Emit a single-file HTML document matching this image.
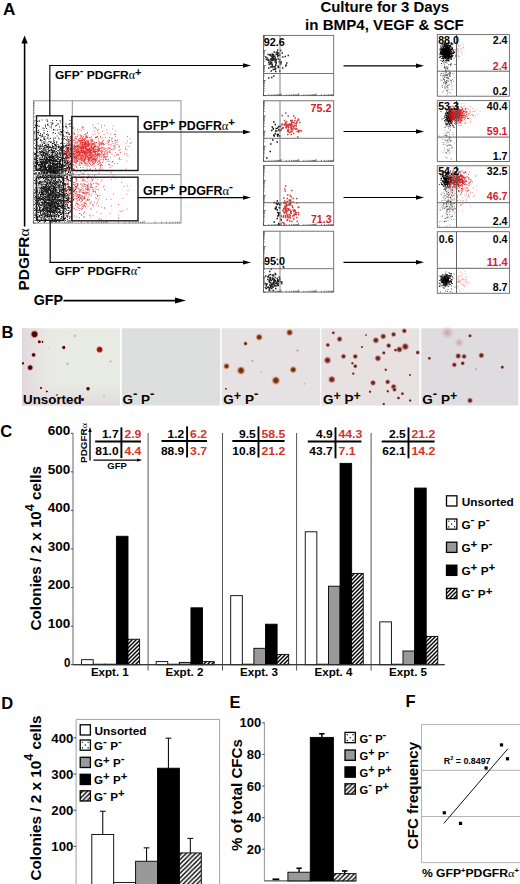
<!DOCTYPE html>
<html><head><meta charset="utf-8"><style>html,body{margin:0;padding:0;background:#fff;overflow:hidden}svg{display:block}</style></head>
<body><svg width="520" height="884" viewBox="0 0 520 884" font-family="Liberation Sans, sans-serif">
<rect width="520" height="884" fill="#fff"/>
<text x="3.0" y="15.1" font-size="17.2" font-weight="bold" fill="#000">A</text>
<line x1="24.6" y1="226.5" x2="24.6" y2="42.5" stroke="#000" stroke-width="1.6"/>
<path d="M24.60,35.50 L21.40,43.50 L27.80,43.50 Z" fill="#000"/>
<text transform="translate(28.9,290.5) rotate(-90)" font-size="15.5" font-weight="bold" textLength="62" lengthAdjust="spacingAndGlyphs">PDGFR<tspan font-family="Liberation Serif, serif" font-weight="normal">&#945;</tspan></text>
<text x="33.8" y="304.5" font-size="14.5" font-weight="bold" fill="#000" textLength="29.2" lengthAdjust="spacingAndGlyphs">GFP</text>
<line x1="63.5" y1="300.6" x2="176" y2="300.6" stroke="#000" stroke-width="1.7"/>
<path d="M186.00,300.60 L175.00,297.60 L175.00,303.60 Z" fill="#000"/>
<defs><filter id="bl3" x="-50%" y="-50%" width="200%" height="200%"><feGaussianBlur stdDeviation="4"/></filter></defs>
<ellipse cx="84" cy="152" rx="15" ry="8" fill="#e83030" opacity="0.35" filter="url(#bl3)"/>
<ellipse cx="50" cy="190" rx="12" ry="26" fill="#333" opacity="0.25" filter="url(#bl3)"/>
<path transform="scale(.5)" d="M95 416h2M95 390h2M81 393h2M122 414h2M121 408h2M108 406h2M110 416h2M82 385h2M106 399h2M110 379h2M106 413h2M111 438h2M88 376h2M93 397h2M113 408h2M91 369h2M90 439h2M84 408h2M109 352h2M101 442h2M98 374h2M110 398h2M71 426h2M113 430h2M129 412h2M102 358h2M112 380h2M91 360h2M81 383h2M71 408h2M129 419h2M107 376h2M78 431h2M122 405h2M105 414h2M132 420h2M110 418h2M69 441h2M119 417h2M96 433h2M111 395h2M106 421h2M102 437h2M87 387h2M121 401h2M82 430h2M129 386h2M72 396h2M97 390h2M128 367h2M125 359h2M84 420h2M123 427h2M107 405h2M103 418h2M96 409h2M111 400h2M115 418h2M140 410h2M91 388h2M100 430h2M93 412h2M78 408h2M108 408h2M91 421h2M106 383h2M89 397h2M95 398h2M120 363h2M99 431h2M93 420h2M122 354h2M114 352h2M104 438h2M97 406h2M116 405h2M121 391h2M118 391h2M103 423h2M104 420h2M112 369h2M79 353h2M125 424h2M129 370h2M100 364h2M120 394h2M98 381h2M108 413h2M130 367h2M129 394h2M85 433h2M102 404h2M128 392h2M106 380h2M100 427h2M102 442h2M99 433h2M87 428h2M75 400h2M96 399h2M88 407h2M136 401h2M111 432h2M96 360h2M89 434h2M120 425h2M100 426h2M103 362h2M69 380h2M118 382h2M82 375h2M69 396h2M76 412h2M114 391h2M106 385h2M116 424h2M113 410h2M127 421h2M118 442h2M94 385h2M81 422h2M138 396h2M111 429h2M82 397h2M106 426h2M99 394h2M80 389h2M118 403h2M83 373h2M112 415h2M134 414h2M99 417h2M106 378h2M72 379h2M106 406h2M92 369h2M142 433h2M76 357h2M134 432h2M136 426h2M83 408h2M99 417h2M85 396h2M109 412h2M113 407h2M94 425h2M101 374h2M87 400h2M98 405h2M100 406h2M97 360h2M108 434h2M109 394h2M109 369h2M81 424h2M92 356h2M85 417h2M110 406h2M130 423h2M100 419h2M133 431h2M120 365h2M97 423h2M94 434h2M112 429h2M125 393h2M93 428h2M120 400h2M77 406h2M107 436h2M116 401h2M117 417h2M104 402h2M95 422h2M79 380h2M100 353h2M86 418h2M111 398h2M95 355h2M137 417h2M122 372h2M116 430h2M87 355h2M101 408h2M113 422h2M130 437h2M74 384h2M79 366h2M98 400h2M75 399h2M96 390h2M99 376h2M114 411h2M98 378h2M80 401h2M70 406h2M103 356h2M95 390h2M109 420h2M99 373h2M97 398h2M115 409h2M86 357h2M93 376h2M78 396h2M90 403h2M110 387h2M122 404h2M85 408h2M106 441h2M115 430h2M110 395h2M110 365h2M124 367h2M96 401h2M123 401h2M84 408h2M112 423h2M133 401h2M105 386h2M128 377h2M113 385h2M86 423h2M127 400h2M86 426h2M99 410h2M130 436h2M100 425h2M87 399h2M127 361h2M124 385h2M99 390h2M98 365h2M100 354h2M99 410h2M109 393h2M82 405h2M115 396h2M91 378h2M81 389h2M106 416h2M86 400h2M90 405h2M103 413h2M95 412h2M101 425h2M100 367h2M79 420h2M87 420h2M115 410h2M110 397h2M72 399h2M109 383h2M98 424h2M82 420h2M137 382h2M103 395h2M131 410h2M118 378h2M100 400h2M115 396h2M109 412h2M70 393h2M130 382h2M80 356h2M76 411h2M134 414h2M90 378h2M111 418h2M80 363h2M106 408h2M74 394h2M89 415h2M98 397h2M93 434h2M128 388h2M117 376h2M101 424h2M130 388h2M99 406h2M70 401h2M86 412h2M101 408h2M89 428h2M95 381h2M86 399h2M117 395h2M106 379h2M87 401h2M103 433h2M112 425h2M104 408h2M119 412h2M133 360h2M116 388h2M100 392h2M90 373h2M87 420h2M101 402h2M97 429h2M110 395h2M113 395h2M109 369h2M122 411h2M107 429h2M104 395h2M69 431h2M101 391h2M107 402h2M114 388h2M92 422h2M127 388h2M93 423h2M134 401h2M125 377h2M104 398h2M102 436h2M88 416h2M79 416h2M111 391h2M86 382h2M92 427h2M102 387h2M100 412h2M125 409h2M99 413h2M119 421h2M95 366h2M102 433h2M78 367h2M95 386h2M109 378h2M82 387h2M99 379h2M100 424h2M84 387h2M86 399h2M110 357h2M109 399h2M116 407h2M109 414h2M126 393h2M117 387h2M115 374h2M109 395h2M77 375h2M104 430h2M109 417h2M99 443h2M92 382h2M118 402h2M94 382h2M95 420h2M107 361h2M109 406h2M80 425h2M94 389h2M116 442h2M86 414h2M90 438h2M87 426h2M91 416h2M98 379h2M143 403h2M88 405h2M125 404h2M124 424h2M84 428h2M110 421h2M118 423h2M103 416h2M93 401h2M118 386h2M123 375h2M105 383h2M103 378h2M68 435h2M106 382h2M104 432h2M80 396h2M111 417h2M125 411h2M100 391h2M105 386h2M80 376h2M88 380h2M77 420h2M74 421h2M80 411h2M127 407h2M85 402h2M88 405h2M91 403h2M115 425h2M118 419h2M94 399h2M95 390h2M93 399h2M81 399h2M110 395h2M110 390h2M117 412h2M100 381h2M113 384h2M104 384h2M104 424h2M82 399h2M112 405h2M118 426h2M88 377h2M118 371h2M86 377h2M105 376h2M126 397h2M78 442h2M88 407h2M100 390h2M106 378h2M75 376h2M100 402h2M111 404h2M84 377h2M110 417h2M98 394h2M119 400h2M115 419h2M104 442h2M89 389h2M84 374h2M100 418h2M124 426h2M124 360h2M87 414h2M129 403h2M83 389h2M87 373h2M130 380h2M124 411h2M88 413h2M132 420h2M125 403h2M110 394h2M109 442h2M71 398h2M105 382h2M94 425h2M140 420h2M139 402h2M99 364h2M99 365h2M101 415h2M101 409h2M96 376h2M80 389h2M106 362h2M114 395h2M103 396h2M99 423h2M100 372h2M113 380h2M79 364h2M70 420h2M84 388h2M107 443h2M139 433h2M103 406h2M94 415h2M106 402h2M90 358h2M124 417h2M76 445h2M137 426h2M141 361h2M111 414h2M104 405h2M121 352h2M75 355h2M89 381h2M107 409h2M101 378h2M91 430h2M115 403h2M88 421h2M123 392h2M117 364h2M120 406h2M68 421h2M82 441h2M86 395h2M106 389h2M105 382h2M113 400h2M123 401h2M109 434h2M97 422h2M93 364h2M122 429h2M131 427h2M87 378h2M84 419h2M107 391h2M103 395h2M104 424h2M119 378h2M102 435h2M101 354h2M90 423h2M83 355h2M110 430h2M104 358h2M116 425h2M111 384h2M106 425h2M107 415h2M100 428h2M88 397h2M94 418h2M132 392h2M116 419h2M135 394h2M98 366h2M109 443h2M111 414h2M96 405h2M71 434h2M92 365h2M85 374h2M117 434h2M73 430h2M118 381h2M70 376h2M87 411h2M118 361h2M86 373h2M89 442h2M117 419h2M90 382h2M80 416h2M85 377h2M112 443h2M103 369h2M124 410h2M123 386h2M121 425h2M69 387h2M72 397h2M112 366h2M74 434h2M96 409h2M97 432h2M121 403h2M73 424h2M91 420h2M123 386h2M89 414h2M124 440h2M110 358h2M75 408h2M83 436h2M84 405h2M90 395h2M109 374h2M109 380h2M89 417h2M89 409h2M132 401h2M97 424h2M93 435h2M74 420h2M90 374h2M135 373h2M135 421h2M129 369h2M98 396h2M92 380h2M109 411h2M93 415h2M129 368h2M73 365h2M85 391h2M101 417h2M93 400h2M89 404h2M77 402h2M138 403h2M75 408h2M85 424h2M108 397h2M81 365h2M127 408h2M77 398h2M104 395h2M94 356h2M85 427h2M105 433h2M78 419h2M108 376h2M110 371h2M84 399h2M80 353h2M91 424h2M92 441h2M77 358h2M131 413h2M119 374h2M116 408h2M113 401h2M124 379h2M81 353h2M123 376h2M79 370h2M91 359h2M94 380h2M89 369h2M101 385h2M102 408h2M89 375h2M86 391h2M93 432h2M91 431h2M124 414h2M110 404h2M110 361h2M119 383h2M120 403h2M123 396h2M92 408h2M91 383h2M102 405h2M130 401h2M134 434h2M103 404h2M97 377h2M99 379h2M133 417h2M99 387h2M78 364h2M99 395h2M129 404h2M103 388h2M93 401h2M82 431h2M72 418h2M81 435h2M86 376h2M74 437h2M133 381h2M85 389h2M87 438h2M137 391h2M86 384h2M78 434h2M106 376h2M116 400h2M77 420h2M137 416h2M86 389h2M122 353h2M95 411h2M113 390h2M76 370h2M87 405h2M106 366h2M131 430h2M102 377h2M118 374h2M74 406h2M105 419h2M83 431h2M80 422h2M104 408h2M119 399h2M122 428h2M103 382h2M85 383h2M96 399h2M115 372h2M86 390h2M104 367h2M132 382h2M100 409h2M104 419h2M106 405h2M106 394h2M84 381h2M99 441h2M90 372h2M89 406h2M101 409h2M99 430h2M136 360h2M103 392h2M111 406h2M93 376h2M72 371h2M114 417h2M100 416h2M88 402h2M101 418h2M99 395h2M97 379h2M145 416h2M114 427h2M138 442h2M115 362h2M83 409h2M110 367h2M92 387h2M101 411h2M94 360h2M98 433h2M109 421h2M110 376h2M111 432h2M140 424h2M93 381h2M84 404h2M99 421h2M146 399h2M114 415h2M105 393h2M98 374h2M104 399h2M106 373h2M101 402h2M112 366h2M108 431h2M112 388h2M90 392h2M97 379h2M108 407h2M82 376h2M98 421h2M76 367h2M110 361h2M102 411h2M98 367h2M99 389h2M107 373h2M96 400h2M119 381h2M111 382h2M92 414h2M81 431h2M124 401h2M77 413h2M123 435h2M75 436h2M138 424h2M122 389h2M75 397h2M96 398h2M114 395h2M104 414h2M109 403h2M96 380h2M127 405h2M78 382h2M97 386h2M122 363h2M110 405h2M76 402h2M98 416h2M91 410h2M116 433h2M100 381h2M84 422h2M113 367h2M103 371h2M101 429h2M123 413h2M145 380h2M100 434h2M87 377h2M93 398h2M78 415h2M111 402h2M134 390h2M126 383h2M104 394h2M90 380h2M93 377h2M89 383h2M79 396h2M116 392h2M90 443h2M120 429h2M123 390h2M97 436h2M89 396h2M108 412h2M94 431h2M96 423h2M121 421h2M115 363h2M74 380h2M76 410h2M83 377h2M94 422h2M104 438h2M80 428h2M119 402h2M110 382h2M78 387h2M104 410h2M115 375h2M118 412h2M70 419h2M111 414h2M132 387h2M110 424h2M82 438h2M71 358h2M110 365h2M101 364h2M109 391h2M101 398h2M103 358h2M81 385h2M85 380h2M79 410h2M97 374h2M80 426h2M87 419h2M78 400h2M107 425h2M116 433h2M93 393h2M116 386h2M113 394h2M106 401h2M78 385h2M130 374h2M76 396h2M92 371h2M83 434h2M89 365h2M116 418h2M79 424h2M123 392h2M74 416h2M118 399h2M108 425h2M137 392h2M90 399h2M124 370h2M116 378h2M109 422h2M76 397h2M105 419h2M81 368h2M96 393h2M70 430h2M117 401h2M115 364h2M93 382h2M75 401h2M82 385h2M108 413h2M101 385h2M110 412h2M73 362h2M103 402h2M102 372h2M96 371h2M108 422h2M135 441h2M84 385h2M81 410h2M140 423h2M74 416h2M100 410h2M136 374h2M107 375h2M101 432h2M97 378h2M101 420h2M92 416h2M116 395h2M91 394h2M81 393h2M94 407h2M127 442h2M91 419h2M106 424h2M100 409h2M91 375h2M117 442h2M113 414h2M105 386h2M104 382h2M81 441h2M86 399h2M90 405h2M96 376h2M121 375h2M90 418h2M89 386h2M107 388h2M75 397h2M78 431h2M84 389h2M93 409h2M87 443h2M120 426h2M85 429h2M98 411h2M95 421h2M122 436h2M96 432h2M129 370h2M129 357h2M111 419h2M130 409h2M90 375h2M75 425h2M95 377h2M111 376h2M91 385h2M106 402h2M107 418h2M94 430h2M117 407h2M92 385h2M114 365h2M97 376h2M72 419h2M99 401h2M117 352h2M99 409h2M117 365h2M114 407h2M127 436h2M100 386h2M93 370h2M98 414h2M120 389h2M128 379h2M85 375h2M129 417h2M78 417h2M109 393h2M100 390h2M98 440h2M128 391h2M85 393h2M118 411h2M89 411h2M96 416h2M92 354h2M101 424h2M78 397h2M117 388h2M116 432h2M114 441h2M82 379h2M112 417h2M91 417h2M115 410h2M91 405h2M90 432h2M92 415h2M103 402h2M133 397h2M127 426h2M126 395h2M118 423h2M88 408h2M98 399h2M125 378h2M91 380h2M100 417h2M134 410h2M109 377h2M111 442h2M116 354h2M94 418h2M108 375h2M83 430h2M74 444h2M100 409h2M74 382h2M113 355h2M140 357h2M76 401h2M109 423h2M93 394h2M95 382h2M105 405h2M88 408h2M100 398h2M105 367h2M79 397h2M89 429h2M110 389h2M94 433h2M83 389h2M103 413h2M90 432h2M143 387h2M127 389h2M103 390h2M88 361h2M92 440h2M122 389h2M90 378h2M113 404h2M91 369h2M125 424h2M82 430h2M79 420h2M82 387h2M110 413h2M119 374h2M130 441h2M100 414h2M85 395h2M75 403h2M104 441h2M118 425h2M93 393h2M93 407h2M70 384h2M100 384h2M132 397h2M130 436h2M90 412h2M125 390h2M102 383h2M101 389h2M102 431h2M127 404h2M104 426h2M94 367h2M121 371h2M118 370h2M135 368h2M114 422h2M99 391h2M93 391h2M93 378h2M108 433h2M114 364h2M103 404h2M128 437h2M110 437h2M92 412h2M118 372h2M103 398h2M94 415h2M102 392h2M91 371h2M88 403h2M111 374h2M119 369h2M116 413h2M95 395h2M109 427h2M74 408h2M86 419h2M126 402h2M98 406h2M111 405h2M92 378h2M97 437h2M98 441h2M105 400h2M68 380h2M124 360h2M81 366h2M89 420h2M128 382h2M98 362h2M88 378h2M81 390h2M117 411h2M81 404h2M101 423h2M94 414h2M140 403h2M79 410h2M85 389h2M104 410h2M95 426h2M96 360h2M117 389h2M123 380h2M111 410h2M79 443h2M121 415h2M113 385h2M100 407h2M108 422h2M96 378h2M89 413h2M68 361h2M92 383h2M93 392h2M94 415h2M109 437h2M120 368h2M112 390h2M88 374h2M92 374h2M119 412h2M127 413h2M88 432h2M87 386h2M97 401h2M123 381h2M107 399h2M76 366h2M96 412h2M106 415h2M101 386h2M108 369h2M74 390h2M72 384h2M86 383h2M99 375h2M103 373h2M85 407h2M102 403h2M71 407h2M103 370h2M114 398h2M100 386h2M111 403h2M122 414h2M88 393h2M118 389h2M107 416h2M103 407h2M103 377h2M123 396h2M88 378h2M107 366h2M125 433h2M126 418h2M124 415h2M126 385h2M102 424h2M98 434h2M102 421h2M102 354h2M105 441h2M111 382h2M96 428h2M116 441h2M82 380h2M78 443h2M108 385h2M99 407h2M144 404h2M119 442h2M110 411h2M96 387h2M105 399h2M98 392h2M85 399h2M91 406h2M117 425h2M114 426h2M113 444h2M120 442h2M90 400h2M86 430h2M116 385h2M124 365h2M98 420h2M99 412h2M123 410h2M79 422h2M98 404h2M89 357h2M76 389h2M122 364h2M86 417h2M85 421h2M91 410h2M102 400h2M99 444h2M89 417h2M103 415h2M119 353h2M105 394h2M94 373h2M85 368h2M133 400h2M114 370h2M103 445h2M99 369h2M95 369h2M73 393h2M92 375h2M83 371h2M105 443h2M68 409h2M77 395h2M102 417h2M122 383h2M76 394h2M106 378h2M72 411h2M104 393h2M72 441h2M104 385h2M109 420h2M115 418h2M108 363h2M92 404h2M93 367h2M101 382h2M92 372h2M85 397h2M87 421h2M97 404h2M108 440h2M112 407h2M97 375h2M93 421h2M104 388h2M74 352h2M106 432h2M107 357h2M96 407h2M82 411h2M96 374h2M76 425h2M107 372h2M80 428h2M112 391h2M131 391h2M79 434h2M96 411h2M101 369h2M77 394h2M127 369h2M126 407h2M78 408h2M111 372h2M78 414h2M84 354h2M95 405h2M89 363h2M110 415h2M133 427h2M107 408h2M101 359h2M128 416h2M94 364h2M129 417h2M77 421h2M137 399h2M108 387h2M88 433h2M98 425h2M94 423h2M116 368h2M79 398h2M116 409h2M124 357h2M110 381h2M102 410h2M81 393h2M77 408h2M83 385h2M104 380h2M122 380h2M116 409h2M80 393h2M84 389h2M109 359h2M120 412h2M96 392h2M105 391h2M90 389h2M123 381h2M107 364h2M86 357h2M96 421h2M106 385h2M112 389h2M107 408h2M75 424h2M95 383h2M129 417h2M137 416h2M96 422h2M85 386h2M89 393h2M115 385h2M106 385h2M96 405h2M79 431h2M104 440h2M119 420h2M97 366h2M96 386h2M105 386h2M123 385h2M95 429h2M100 363h2M108 394h2M80 377h2M109 409h2M108 381h2M105 396h2M96 391h2M89 430h2M98 412h2M92 395h2M82 380h2M123 408h2M124 426h2M118 431h2M88 425h2M94 384h2M116 374h2M105 411h2M107 389h2M75 401h2M117 424h2M113 434h2M81 399h2M107 431h2M103 416h2M72 379h2M109 421h2M120 406h2M83 397h2M106 391h2M87 389h2M71 368h2M98 389h2M101 443h2M106 399h2M77 367h2M107 373h2M108 367h2M103 398h2M119 388h2M93 408h2M95 383h2M94 415h2M105 421h2M135 399h2M77 405h2M100 354h2M109 443h2M120 354h2M127 428h2M93 415h2M129 390h2M100 383h2M127 370h2M82 382h2M112 380h2M124 390h2M109 395h2M135 389h2M101 421h2M86 406h2M88 354h2M73 435h2M108 353h2M135 379h2M93 408h2M86 436h2M123 401h2M110 402h2M108 369h2M83 378h2M93 419h2M88 382h2M114 413h2M93 367h2M122 433h2M136 415h2M106 423h2M118 392h2M81 423h2M123 390h2M113 399h2M106 383h2M99 400h2M100 430h2M120 424h2M116 371h2M123 371h2M125 421h2M81 436h2M87 377h2M70 393h2M120 379h2M136 421h2M90 363h2M68 417h2M125 367h2M100 391h2M95 415h2M140 380h2M116 434h2M95 395h2M74 433h2M90 380h2M101 374h2M80 391h2M129 394h2M110 355h2M92 353h2M98 419h2M105 372h2M115 430h2M109 387h2M99 380h2M97 410h2M94 430h2M107 425h2M112 393h2M91 431h2M112 416h2M84 420h2M115 394h2M77 358h2M95 417h2M101 364h2M72 383h2M100 374h2M84 395h2M89 382h2M101 391h2M112 363h2M99 424h2M123 417h2M69 430h2M113 418h2M80 363h2M103 368h2M131 381h2M89 427h2M106 372h2M76 392h2M112 422h2M119 413h2M87 363h2M79 424h2M117 439h2M101 362h2M134 359h2M121 437h2M92 358h2M99 412h2M70 364h2M98 422h2M101 414h2M106 371h2M98 388h2M109 376h2M128 401h2M110 420h2M120 413h2M136 415h2M111 415h2M87 379h2M87 436h2M109 363h2M134 411h2M123 407h2M94 405h2M78 363h2M83 384h2M73 397h2M136 398h2M117 393h2M108 399h2M89 402h2M71 414h2M94 366h2M93 417h2M87 415h2M79 397h2M105 424h2M71 382h2M133 391h2M143 377h2M113 408h2M140 405h2M95 356h2M98 430h2M115 439h2M117 399h2M112 405h2M107 367h2M108 409h2M130 370h2M107 411h2M78 385h2M104 424h2M143 409h2M88 276h2M121 329h2M98 309h2M115 289h2M102 335h2M98 334h2M117 295h2M94 334h2M119 313h2M116 341h2M70 297h2M72 335h2M104 349h2M116 319h2M121 352h2M109 343h2M74 341h2M79 304h2M93 335h2M99 324h2M80 336h2M85 298h2M92 307h2M94 327h2M109 289h2M78 303h2M109 335h2M136 326h2M106 334h2M126 317h2M114 323h2M102 336h2M100 321h2M131 326h2M134 298h2M139 333h2M72 331h2M70 308h2M106 336h2M84 326h2M98 334h2M100 327h2M118 294h2M90 335h2M92 319h2M91 337h2M125 328h2M95 341h2M95 286h2M105 323h2M89 347h2M101 318h2M100 329h2M109 337h2M90 302h2M78 329h2M77 350h2M73 289h2M96 289h2M133 308h2M99 326h2M84 290h2M71 345h2M90 349h2M118 347h2M129 328h2M131 315h2M133 266h2M100 313h2M114 334h2M134 297h2M107 282h2M107 304h2M112 329h2M72 325h2M81 274h2M112 341h2M115 334h2M87 261h2M88 298h2M99 292h2M100 351h2M130 338h2M104 350h2M128 324h2M75 313h2M75 311h2M98 340h2M103 334h2M93 342h2M118 350h2M130 325h2M104 342h2M92 308h2M99 321h2M117 323h2M102 327h2M107 317h2M122 298h2M92 315h2M113 333h2M110 324h2M86 305h2M93 319h2M106 341h2M120 329h2M85 307h2M101 341h2M139 336h2M90 330h2M101 315h2M105 348h2M86 347h2M86 311h2M104 326h2M80 293h2M100 338h2M91 336h2M69 341h2M108 339h2M88 334h2M106 338h2M123 320h2M113 339h2M99 301h2M135 287h2M106 323h2M123 322h2M101 347h2M109 320h2M114 341h2M120 320h2M99 323h2M83 338h2M94 341h2M123 329h2M101 335h2M86 308h2M122 336h2M99 302h2M77 311h2M131 319h2M112 314h2M110 323h2M107 326h2M101 338h2M90 337h2M90 320h2M107 318h2M122 332h2M119 335h2M127 332h2M71 318h2M110 346h2M106 343h2M74 328h2M105 327h2M101 346h2M81 319h2M79 292h2M115 327h2M119 323h2M142 349h2M103 335h2M96 351h2M140 322h2M78 346h2M121 297h2M86 308h2M111 344h2M85 305h2M113 283h2M113 328h2M89 326h2M95 315h2M70 327h2M129 350h2M84 313h2M83 294h2M123 334h2M86 298h2M92 320h2M134 321h2M113 328h2M112 322h2M98 309h2M82 297h2M110 344h2M103 350h2M111 335h2M83 346h2M123 347h2M125 321h2M89 338h2M96 333h2M95 319h2M104 287h2M82 305h2M85 272h2M95 350h2M112 303h2M124 292h2M89 324h2M125 335h2M98 313h2M102 333h2M114 332h2M104 332h2M111 329h2M85 334h2M108 335h2M105 341h2M78 306h2M98 310h2M87 333h2M123 319h2M111 336h2M93 310h2M97 315h2M111 291h2M122 350h2M112 292h2M101 343h2M87 305h2M108 344h2M92 326h2M90 319h2M69 324h2M132 339h2M103 352h2M80 304h2M105 352h2M92 316h2M108 346h2M105 287h2M89 273h2M105 312h2M126 343h2M105 336h2M89 331h2M137 312h2M87 336h2M117 351h2M81 329h2M95 303h2M102 321h2M118 342h2M85 334h2M93 317h2M92 292h2M85 351h2M142 307h2M93 324h2M73 341h2M99 339h2M144 326h2M115 351h2M88 318h2M130 349h2M103 306h2M117 344h2M116 338h2M101 319h2M106 338h2M106 319h2M84 342h2M111 345h2M110 330h2M134 299h2M87 320h2M69 340h2M99 319h2M92 347h2M111 331h2M111 315h2M93 345h2M117 308h2M134 335h2M117 326h2M121 296h2M87 348h2M93 340h2M76 350h2M126 306h2M120 263h2M95 292h2M106 315h2M89 312h2M106 321h2M82 327h2M108 312h2M122 293h2M108 323h2M131 317h2M87 301h2M139 346h2M79 324h2M108 285h2M100 343h2M98 337h2M104 316h2M107 336h2M99 316h2M80 338h2M116 276h2M118 315h2M126 309h2M92 327h2M77 329h2M93 318h2M88 349h2M130 322h2M126 339h2M71 348h2M92 337h2M105 310h2M104 316h2M82 342h2M88 278h2M105 351h2M70 332h2M126 332h2M104 317h2M121 316h2M102 284h2M101 337h2M140 297h2M90 327h2M75 300h2M76 347h2M99 351h2M79 346h2M91 334h2M118 333h2M93 293h2M101 350h2M88 330h2M94 293h2M93 295h2M106 328h2M120 323h2M107 337h2M109 297h2M100 348h2M87 318h2M107 346h2M111 340h2M87 335h2M91 325h2M104 340h2M84 272h2M85 345h2M83 342h2M93 310h2M98 331h2M119 301h2M118 320h2M85 340h2M72 320h2M95 274h2M112 350h2M121 298h2M75 313h2M81 325h2M104 343h2M129 306h2M117 336h2M77 336h2M126 317h2M82 335h2M103 314h2M86 349h2M84 327h2M113 334h2M134 348h2M109 346h2M115 339h2M97 294h2M141 301h2M88 338h2M100 285h2M93 339h2M123 303h2M107 334h2M103 336h2M93 299h2M109 341h2M75 276h2M82 342h2M100 349h2M97 318h2M105 344h2M123 343h2M98 326h2M81 320h2M120 310h2M137 315h2M122 316h2M108 344h2M136 333h2M105 304h2M136 334h2M74 350h2M71 316h2M144 317h2M87 318h2M89 345h2M129 308h2M109 289h2M130 330h2M84 333h2M107 327h2M130 315h2M82 319h2M108 328h2M102 321h2M98 344h2M115 313h2M98 314h2M96 298h2M119 348h2M98 316h2M91 316h2M77 346h2M112 294h2M90 334h2M100 319h2M97 325h2M125 330h2M99 319h2M87 314h2M122 338h2M104 328h2M78 338h2M94 294h2M104 344h2M104 321h2M94 344h2M121 320h2M103 314h2M112 323h2M123 314h2M134 325h2M83 310h2M113 311h2M110 298h2M100 315h2M144 319h2M81 324h2M105 343h2M77 337h2M68 318h2M90 324h2M114 317h2M119 327h2M83 326h2M113 335h2M112 346h2M82 310h2M129 320h2M83 310h2M119 305h2M103 333h2M87 327h2M90 331h2M115 301h2M82 282h2M130 330h2M100 331h2M120 340h2M117 328h2M98 331h2M68 308h2M113 333h2M82 330h2M120 327h2M98 324h2M127 273h2M99 345h2M128 331h2M93 320h2M96 302h2M100 345h2M106 343h2M69 309h2M77 318h2M79 348h2M107 333h2M87 340h2M101 314h2M107 316h2M119 347h2M86 346h2M101 315h2M82 292h2M77 340h2M124 317h2M103 340h2M116 343h2M125 350h2M85 342h2M100 346h2M94 352h2M126 312h2M89 338h2M110 335h2M117 304h2M122 342h2M95 342h2M99 294h2M88 331h2M90 310h2M95 323h2M101 331h2M103 342h2M76 261h2M92 348h2M93 317h2M89 338h2M123 345h2M145 329h2M119 349h2M87 333h2M89 307h2M106 313h2M134 314h2M89 334h2M90 333h2M88 298h2M130 343h2M103 321h2M97 339h2M72 313h2M98 333h2M119 306h2M98 320h2M106 332h2M118 332h2M130 309h2M118 308h2M128 325h2M124 322h2M82 334h2M88 323h2M79 331h2M93 319h2M84 328h2M104 295h2M105 304h2M81 330h2M91 289h2M89 348h2M99 316h2M83 302h2M80 304h2M99 340h2M97 337h2M124 325h2M75 277h2M105 316h2M95 342h2M109 294h2M81 334h2M90 282h2M123 293h2M81 341h2M105 345h2M111 315h2M125 291h2M88 339h2M103 309h2M81 341h2M87 322h2M120 335h2M98 334h2M91 321h2M130 337h2M87 319h2M112 323h2M78 316h2M98 338h2M81 315h2M110 344h2M96 337h2M110 290h2M118 340h2M107 287h2M81 325h2M103 321h2M119 346h2M100 334h2M107 338h2M86 351h2M83 331h2M93 304h2M112 330h2M77 330h2M89 349h2M81 312h2M98 342h2M118 326h2M83 328h2M118 326h2M90 340h2M85 302h2M81 340h2M114 335h2M129 323h2M89 307h2M87 335h2M95 315h2M93 322h2M91 322h2M83 331h2M90 328h2M72 335h2M111 347h2M89 305h2M74 304h2M87 325h2M69 316h2M86 352h2M137 324h2M95 323h2M96 328h2M98 313h2M107 320h2M111 306h2M142 337h2M91 305h2M109 320h2M115 319h2M118 336h2M107 336h2M93 323h2M109 349h2M133 305h2M121 330h2M105 313h2M133 312h2M98 315h2M74 321h2M107 322h2M93 307h2M105 306h2M107 316h2M93 309h2M102 349h2M118 325h2M76 330h2M133 339h2M99 283h2M91 345h2M89 311h2M89 330h2M120 319h2M113 343h2M85 311h2M136 333h2M74 322h2M93 323h2M103 312h2M123 300h2M84 292h2M72 346h2M112 327h2M117 347h2M89 331h2M91 341h2M79 326h2M146 338h2M102 338h2M103 301h2M86 328h2M103 312h2M98 315h2M74 317h2M84 352h2M126 346h2M96 319h2M69 320h2M104 326h2M100 342h2M100 342h2M85 333h2M98 320h2M100 335h2M95 342h2M89 292h2M114 332h2M133 341h2M86 345h2M79 330h2M68 348h2M111 308h2M116 316h2M86 306h2M75 340h2M105 325h2M103 331h2M80 308h2M112 309h2M111 347h2M93 294h2M84 303h2M121 336h2M95 343h2M92 315h2M104 312h2M132 338h2M91 343h2M81 349h2M91 338h2M83 329h2M119 327h2M87 339h2M117 328h2M77 296h2M98 343h2M121 339h2M109 320h2M68 347h2M98 346h2M79 329h2M140 313h2M95 335h2M98 324h2M109 327h2M119 335h2M116 351h2M111 333h2M101 342h2M111 341h2M89 331h2M109 310h2M100 350h2M103 326h2M100 321h2M119 324h2M106 337h2M91 302h2M97 313h2M87 332h2M85 340h2M86 322h2M86 332h2M118 351h2M68 331h2M86 350h2M112 320h2M142 326h2M90 322h2M129 331h2M109 303h2M107 349h2M90 321h2M69 341h2M118 349h2M82 302h2M113 336h2M119 326h2M83 343h2M89 295h2M88 312h2M78 320h2M134 323h2M122 331h2M108 317h2M99 294h2M135 315h2M111 319h2M105 305h2M112 288h2M117 302h2M106 344h2M87 325h2M95 342h2M95 350h2M98 334h2M82 341h2M140 336h2M100 332h2M114 328h2M100 337h2M79 318h2M100 352h2M119 328h2M142 329h2M131 337h2M111 298h2M69 314h2M81 309h2M132 311h2M84 323h2M117 322h2M114 345h2M87 279h2M82 304h2M132 316h2M79 341h2M101 311h2M105 315h2M83 286h2M108 341h2M82 333h2M92 321h2M112 329h2M119 344h2M123 335h2M105 301h2M80 333h2M86 309h2M113 332h2M98 335h2M106 337h2M83 273h2M114 305h2M97 330h2M88 344h2M95 326h2M81 326h2M80 333h2M108 301h2M140 281h2M100 325h2M121 307h2M120 287h2M88 346h2M102 299h2M123 318h2M122 316h2M105 332h2M75 340h2M92 269h2M84 313h2M84 310h2M86 276h2M118 334h2M105 326h2M101 326h2M79 297h2M73 326h2M133 320h2M114 327h2M80 330h2M107 276h2M116 334h2M80 350h2M107 328h2M94 344h2M111 347h2M92 302h2M89 331h2M116 292h2M105 316h2M140 332h2M104 322h2M104 291h2M75 298h2M118 330h2M123 285h2M84 289h2M85 324h2M111 321h2M90 298h2M102 312h2M113 343h2M103 305h2M105 319h2M115 346h2M109 322h2M130 350h2M125 351h2M113 341h2M79 290h2M82 346h2M118 336h2M92 291h2M70 325h2M114 349h2M96 351h2M99 315h2M93 349h2M119 306h2M81 335h2M142 305h2M75 342h2M110 318h2M99 343h2M123 330h2M115 317h2M97 278h2M91 315h2M84 330h2M79 341h2M137 305h2M120 320h2M111 329h2M125 316h2M114 314h2M104 332h2M121 296h2M80 337h2M99 322h2M114 330h2M85 350h2M127 321h2M94 341h2M122 344h2M81 319h2M121 329h2M79 316h2M86 340h2M87 326h2M111 337h2M111 321h2M104 307h2M76 325h2M107 334h2M85 300h2M107 314h2M123 344h2M92 318h2M122 340h2M132 340h2M89 318h2M86 338h2M105 346h2M109 308h2M96 310h2M109 302h2M89 312h2M88 326h2M129 326h2M72 325h2M115 345h2M122 334h2M124 301h2M97 312h2M119 330h2M103 332h2M104 328h2M81 325h2M102 311h2M68 319h2M95 332h2M102 315h2M99 332h2M103 298h2M70 346h2M93 318h2M74 325h2M98 316h2M115 345h2M97 301h2M105 341h2M115 325h2M100 295h2M86 325h2M118 334h2M94 346h2M138 339h2M99 336h2M113 321h2M102 344h2M93 341h2M106 348h2M81 320h2M105 294h2M107 302h2M82 335h2M93 325h2M137 309h2M130 340h2M109 313h2M70 332h2M115 337h2M108 341h2M88 329h2M102 322h2M72 299h2M110 344h2M102 305h2M117 323h2M110 322h2M105 293h2M93 325h2M109 329h2M107 294h2M145 347h2M123 336h2M91 309h2M108 329h2M91 295h2M97 329h2M119 320h2M70 307h2M99 338h2M114 323h2M110 335h2M133 331h2M103 345h2M124 311h2M91 326h2M121 333h2M118 299h2M130 342h2M77 333h2M103 320h2M115 314h2M99 350h2M72 341h2M76 330h2M114 331h2M118 334h2M96 343h2M95 335h2M120 319h2M122 306h2M96 292h2M71 309h2M109 351h2M116 293h2M110 330h2M102 343h2M95 293h2M79 299h2M74 329h2M125 315h2M85 305h2M91 326h2M81 343h2M77 345h2M87 350h2M83 342h2M109 330h2M132 336h2M83 348h2M84 319h2M100 336h2M133 292h2M97 339h2M130 303h2M101 350h2M89 291h2M81 337h2M126 296h2M132 328h2M89 335h2M130 346h2M133 350h2M89 309h2M136 297h2M93 325h2M82 319h2M99 320h2M84 323h2M117 326h2M92 325h2M76 350h2M88 315h2M110 335h2M89 327h2M120 315h2M109 348h2M107 346h2M109 344h2M101 308h2M80 336h2M107 281h2M70 326h2M88 345h2M76 339h2M103 346h2M99 332h2M95 307h2M114 340h2M83 325h2M100 352h2M109 291h2M87 285h2M94 322h2M112 336h2M112 303h2M87 340h2M133 327h2M97 338h2M115 330h2M106 322h2M89 314h2M113 319h2M111 341h2M119 269h2M81 304h2M97 351h2M127 341h2M92 344h2M100 346h2M80 306h2M87 331h2M107 324h2M107 348h2M77 330h2M70 319h2M118 315h2M136 344h2M117 334h2M102 320h2M96 321h2M86 293h2M90 340h2M91 314h2M108 343h2M91 339h2M81 324h2M103 322h2M130 291h2M102 302h2M106 302h2M111 344h2M91 329h2M90 291h2M112 285h2M95 344h2M102 295h2M87 348h2M91 350h2M114 317h2M93 309h2M122 301h2M82 324h2M105 313h2M111 340h2M106 330h2M109 305h2M77 322h2M78 348h2M109 340h2M87 302h2M111 297h2M106 329h2M115 333h2M102 318h2M127 309h2M82 348h2M106 297h2M91 308h2M143 334h2M95 305h2M107 321h2M109 311h2M129 331h2M110 335h2M123 346h2M93 349h2M92 335h2M132 307h2M80 323h2M131 321h2M104 324h2M113 347h2M115 350h2M138 328h2M114 328h2M101 337h2M99 340h2M83 328h2M88 305h2M86 320h2M97 295h2M95 306h2M84 336h2M122 339h2M90 322h2M126 294h2M122 297h2M88 333h2M110 331h2M119 333h2M92 350h2M68 308h2M123 344h2M94 263h2M109 328h2M100 337h2M115 326h2M82 324h2M139 316h2M121 335h2M114 326h2M95 323h2M107 328h2M94 311h2M105 340h2M136 331h2M145 322h2M84 328h2M96 297h2M111 311h2M125 337h2M90 326h2M119 320h2M82 318h2M109 332h2M98 320h2M127 294h2M101 334h2M101 300h2M97 335h2M87 339h2M102 341h2M97 321h2M118 330h2M95 312h2M104 317h2M91 312h2M101 305h2M70 338h2M84 316h2M126 331h2M93 347h2M78 303h2M120 332h2M120 322h2M77 293h2M107 331h2M99 298h2M127 317h2M108 332h2M121 338h2M124 337h2M91 320h2M113 313h2M118 326h2M82 311h2M115 332h2M95 332h2M103 321h2M104 309h2M79 328h2M139 306h2M97 295h2M103 337h2M115 301h2M88 317h2M96 331h2M90 351h2M130 307h2M121 333h2M113 293h2M125 254h2M69 250h2M129 333h2M105 266h2M130 253h2M91 240h2M139 286h2M124 330h2M110 351h2M124 344h2M137 249h2M122 265h2M91 278h2M139 247h2M99 254h2M140 296h2M119 298h2M123 278h2M98 323h2M119 339h2M90 335h2M121 304h2M97 304h2M74 251h2M90 254h2M72 320h2M121 309h2M83 321h2M127 309h2M84 303h2M96 270h2M79 337h2M114 344h2M80 270h2M105 247h2M90 300h2M103 342h2M110 311h2M110 328h2M94 240h2M139 329h2M77 253h2M84 314h2M77 242h2M104 241h2M87 283h2M83 240h2M87 267h2M91 286h2M94 276h2M69 334h2M121 295h2M68 266h2M133 291h2M83 332h2M132 254h2M104 303h2M76 276h2M113 315h2M113 309h2M95 248h2M69 334h2M130 341h2M73 326h2M80 279h2M82 336h2M127 333h2M95 345h2M87 304h2M116 266h2M95 251h2M125 261h2M78 271h2M114 311h2M106 336h2M122 263h2M106 259h2M85 256h2M74 279h2M132 313h2M74 265h2M111 299h2M70 251h2M109 307h2M74 327h2M85 306h2M106 278h2M136 284h2M98 301h2M128 351h2M123 300h2M120 311h2M137 349h2M123 264h2M109 289h2M85 328h2M84 319h2M103 288h2M119 321h2M139 352h2M126 270h2M116 295h2M136 290h2M94 243h2M102 300h2M90 252h2M103 248h2M80 290h2M93 296h2M106 284h2M78 242h2M108 349h2M88 279h2M91 323h2M104 329h2M68 255h2M83 281h2M97 283h2M138 289h2M109 348h2M114 307h2M128 277h2M71 347h2M106 305h2M73 323h2M95 312h2M88 343h2M95 271h2M132 265h2M88 295h2M139 253h2M83 329h2M73 286h2M124 320h2M125 253h2M132 280h2M127 293h2M132 294h2M87 257h2M104 246h2M80 338h2M109 337h2M79 294h2M102 252h2M87 343h2M120 297h2M112 336h2M137 307h2M72 338h2M80 267h2M78 297h2M110 292h2M102 256h2M120 300h2M90 333h2M136 343h2M139 248h2M96 290h2M86 323h2M133 256h2M104 348h2M132 290h2M76 291h2M105 328h2M81 271h2M139 241h2M112 251h2M122 287h2M135 265h2M131 265h2M71 250h2M73 284h2M138 280h2M120 244h2M105 300h2M75 305h2M100 277h2M128 317h2M77 252h2M72 270h2M114 348h2M138 337h2M77 329h2M123 293h2M140 307h2M77 264h2M77 308h2M113 336h2M69 241h2M138 269h2M87 337h2M76 329h2M133 303h2M112 241h2M112 309h2M124 298h2M76 265h2M115 249h2M76 268h2M125 301h2M94 348h2M110 267h2M109 336h2M95 289h2M110 351h2M114 260h2M110 276h2M102 320h2M69 297h2M91 307h2M127 292h2M113 272h2M86 297h2M106 265h2M123 296h2M94 268h2M128 341h2M136 268h2M73 311h2M70 336h2M117 278h2M100 316h2M80 281h2M125 316h2M110 252h2M84 269h2M70 312h2M109 344h2M108 343h2M102 298h2M88 292h2M135 295h2M68 280h2M82 310h2M105 293h2M135 325h2M74 243h2M118 307h2M115 296h2M71 291h2M128 307h2M71 254h2M133 301h2M80 319h2M135 337h2M114 330h2M74 292h2M126 278h2M78 337h2M119 241h2M73 302h2M137 309h2M131 252h2M109 260h2M92 257h2M101 245h2M115 312h2M133 326h2M73 337h2M107 345h2M103 249h2M119 259h2M139 300h2M133 295h2M92 314h2M119 292h2M88 287h2M119 266h2M79 294h2M115 247h2M88 349h2M87 326h2M90 250h2M103 337h2M124 245h2M119 310h2M103 314h2M106 260h2M118 254h2M90 335h2M109 297h2M119 295h2M96 302h2M70 279h2M71 352h2M133 313h2M79 336h2M88 330h2M115 308h2M121 270h2M128 301h2M123 334h2M86 286h2M94 249h2M131 317h2M103 301h2M131 248h2M94 317h2M106 296h2M87 265h2M119 383h2M139 435h2M142 377h2M107 362h2M95 359h2M106 440h2M126 385h2M89 438h2M72 430h2M133 358h2M140 411h2M98 391h2M114 400h2M134 434h2M93 353h2M127 412h2M118 359h2M74 435h2M96 395h2M142 370h2M116 358h2M111 420h2M80 422h2M142 428h2M128 439h2M122 402h2M131 426h2M116 414h2M82 383h2M93 431h2M127 379h2M144 357h2M73 382h2M74 439h2M95 388h2M133 401h2M116 392h2M103 440h2M89 400h2M104 365h2M79 399h2M129 392h2M72 438h2M78 433h2M71 412h2M79 376h2M100 421h2M101 390h2M99 400h2M89 440h2M82 364h2M110 384h2M123 356h2M119 386h2M138 380h2M101 381h2M109 378h2M119 390h2M122 379h2M103 403h2M123 412h2M101 360h2M77 365h2M82 369h2M118 383h2M137 374h2M87 369h2M79 415h2M112 375h2M130 414h2M101 408h2M118 393h2M75 386h2M140 386h2M117 360h2M127 432h2M96 386h2M107 375h2M84 364h2M120 399h2M141 441h2M134 439h2M132 354h2M78 442h2M134 409h2M115 392h2M100 365h2M110 377h2M77 432h2M112 433h2M90 405h2M89 428h2M84 412h2M110 382h2M74 397h2M108 427h2M83 369h2M91 426h2M86 410h2M70 360h2M122 398h2M77 396h2M139 388h2M110 391h2M106 356h2M135 405h2M94 378h2M82 438h2M132 387h2M114 403h2M83 355h2M124 367h2M111 354h2M70 367h2M118 408h2M143 413h2M108 353h2M141 397h2M133 356h2M131 396h2M84 389h2M74 405h2M85 417h2M81 415h2M115 417h2M140 379h2M120 389h2M136 428h2M126 407h2M88 436h2M142 439h2M94 428h2M120 429h2M129 394h2M98 425h2M118 402h2M134 355h2M69 395h2M75 429h2M75 433h2M85 364h2M125 414h2M99 407h2M110 439h2M107 402h2M103 390h2M120 362h2M121 437h2M126 402h2M95 361h2M75 402h2M135 432h2M82 421h2M129 396h2M133 369h2M94 399h2M123 393h2M91 432h2M98 391h2M85 396h2M134 314h2M132 310h2M151 358h2M134 399h2M140 343h2M140 361h2M143 414h2M134 349h2M135 397h2M138 380h2M141 326h2M137 404h2M142 382h2M134 336h2M131 340h2M136 295h2M143 321h2M138 373h2M133 280h2M142 366h2M135 394h2M141 313h2M136 282h2M135 405h2M131 382h2M127 339h2M142 417h2M139 379h2M146 256h2M126 423h2M151 373h2M136 360h2M136 326h2M136 345h2M140 376h2M142 373h2M130 404h2M138 330h2M147 308h2M129 331h2M139 381h2M137 376h2M132 327h2M137 298h2M137 335h2M140 311h2M133 328h2M134 311h2M135 298h2M139 376h2M136 343h2M131 313h2M135 315h2M129 357h2M136 334h2M131 348h2M132 334h2M137 378h2M141 327h2M143 305h2M135 400h2M150 355h2M134 336h2M129 344h2M134 321h2M143 320h2M146 383h2M140 327h2M133 273h2M138 340h2M138 324h2M139 292h2M144 337h2M135 291h2M130 378h2M132 349h2M135 427h2M141 299h2M133 306h2M128 324h2M142 352h2M140 345h2M134 353h2M136 425h2M147 365h2M140 273h2M135 443h2M131 382h2M143 335h2M135 332h2M141 351h2M145 396h2M134 326h2M135 316h2M134 347h2M141 289h2M128 320h2M134 368h2M132 408h2M133 342h2M136 395h2M138 351h2M133 357h2M138 337h2M136 279h2M133 396h2M144 347h2M134 389h2M133 403h2M143 309h2M135 303h2M138 335h2M127 309h2M137 291h2M142 367h2M135 404h2M131 377h2M128 337h2M140 329h2M135 375h2M145 401h2M139 340h2M128 417h2M147 266h2M141 348h2M140 362h2M135 350h2M136 395h2M135 329h2M140 375h2M139 361h2M145 393h2M137 342h2M140 277h2M133 323h2M137 335h2M150 379h2M138 437h2M136 338h2M143 382h2M141 397h2M134 324h2M132 354h2M142 309h2M133 298h2M148 381h2M137 303h2M130 325h2M136 301h2M135 397h2" stroke="#111" stroke-width="2" stroke-opacity="0.85"/>
<path transform="scale(.5)" d="M168 304h2M126 296h2M166 293h2M140 300h2M148 294h2M136 299h2M187 293h2M176 283h2M179 311h2M159 314h2M150 302h2M202 305h2M144 317h2M179 300h2M134 275h2M136 321h2M175 292h2M190 325h2M151 308h2M135 305h2M206 287h2M170 294h2M166 304h2M173 316h2M177 318h2M187 320h2M154 308h2M162 291h2M207 310h2M171 274h2M163 313h2M165 295h2M198 301h2M162 301h2M162 317h2M180 303h2M161 299h2M202 302h2M183 283h2M174 313h2M193 309h2M179 308h2M187 333h2M173 292h2M180 302h2M180 315h2M172 297h2M176 287h2M175 291h2M177 305h2M165 286h2M170 294h2M165 312h2M189 287h2M185 323h2M190 309h2M164 327h2M163 282h2M170 307h2M149 285h2M208 308h2M184 296h2M138 298h2M196 296h2M133 298h2M163 303h2M148 297h2M156 314h2M170 315h2M170 274h2M128 307h2M185 316h2M169 279h2M158 308h2M196 301h2M158 292h2M188 316h2M130 317h2M151 282h2M137 291h2M212 342h2M144 292h2M171 309h2M160 281h2M161 293h2M132 302h2M141 277h2M198 318h2M197 307h2M160 301h2M140 311h2M174 299h2M131 299h2M199 325h2M186 300h2M170 311h2M171 318h2M157 270h2M121 287h2M140 310h2M190 305h2M179 305h2M172 297h2M159 319h2M163 302h2M191 318h2M160 306h2M148 303h2M175 304h2M171 308h2M170 296h2M149 298h2M201 302h2M156 295h2M144 308h2M147 314h2M186 312h2M189 304h2M133 299h2M183 283h2M143 316h2M176 322h2M182 305h2M176 315h2M168 300h2M175 299h2M217 296h2M139 283h2M190 299h2M172 300h2M175 284h2M171 295h2M189 313h2M144 288h2M178 320h2M184 302h2M193 273h2M159 289h2M147 309h2M174 307h2M165 311h2M185 296h2M188 292h2M205 288h2M164 288h2M168 321h2M151 326h2M196 311h2M155 314h2M188 304h2M219 298h2M142 298h2M178 327h2M133 302h2M195 296h2M160 286h2M183 316h2M180 307h2M188 303h2M182 315h2M194 312h2M169 313h2M139 276h2M201 308h2M148 293h2M165 304h2M152 315h2M131 339h2M144 324h2M184 281h2M143 302h2M174 298h2M168 305h2M145 302h2M215 298h2M147 310h2M195 320h2M155 301h2M173 300h2M175 319h2M179 304h2M162 327h2M141 329h2M183 305h2M151 327h2M192 318h2M213 282h2M171 299h2M153 303h2M179 311h2M167 285h2M179 312h2M211 319h2M170 287h2M225 298h2M171 314h2M177 322h2M148 292h2M173 286h2M154 321h2M174 302h2M157 303h2M169 288h2M186 287h2M195 300h2M123 278h2M175 292h2M204 325h2M211 319h2M197 297h2M196 299h2M169 284h2M169 309h2M168 288h2M186 317h2M166 314h2M190 291h2M170 277h2M146 307h2M150 307h2M178 275h2M157 323h2M168 305h2M155 280h2M132 340h2M165 291h2M173 276h2M195 329h2M152 306h2M149 313h2M151 300h2M195 312h2M163 281h2M134 317h2M179 305h2M194 307h2M153 300h2M166 303h2M220 315h2M174 300h2M155 288h2M130 293h2M139 275h2M151 273h2M196 323h2M146 330h2M185 269h2M170 289h2M132 296h2M192 311h2M138 291h2M151 318h2M167 289h2M151 274h2M150 314h2M128 302h2M165 314h2M143 314h2M198 338h2M134 300h2M164 304h2M147 313h2M216 328h2M149 293h2M183 306h2M151 319h2M178 318h2M163 321h2M160 287h2M170 284h2M194 315h2M133 303h2M186 299h2M178 296h2M167 302h2M179 290h2M144 306h2M157 309h2M159 284h2M183 308h2M184 300h2M159 320h2M131 324h2M179 303h2M169 312h2M152 306h2M150 276h2M172 305h2M181 312h2M182 315h2M145 318h2M225 300h2M141 310h2M186 319h2M202 286h2M176 310h2M195 293h2M169 298h2M165 301h2M167 278h2M167 304h2M164 253h2M154 293h2M148 324h2M188 302h2M177 350h2M147 308h2M154 323h2M192 303h2M182 293h2M134 312h2M203 302h2M159 277h2M215 290h2M148 299h2M194 306h2M168 303h2M186 304h2M171 302h2M143 320h2M155 283h2M159 303h2M187 284h2M141 303h2M177 288h2M144 304h2M167 280h2M148 322h2M145 316h2M134 321h2M202 297h2M153 311h2M141 309h2M193 309h2M175 301h2M190 293h2M202 305h2M163 280h2M159 306h2M196 282h2M166 293h2M143 301h2M151 314h2M130 272h2M179 299h2M172 290h2M147 291h2M168 291h2M160 290h2M174 287h2M127 263h2M168 304h2M189 294h2M146 280h2M185 296h2M189 304h2M164 276h2M153 313h2M154 311h2M132 314h2M225 323h2M176 286h2M158 293h2M174 275h2M149 313h2M170 314h2M187 288h2M139 307h2M169 304h2M150 316h2M177 320h2M160 312h2M168 290h2M168 280h2M164 305h2M184 289h2M141 291h2M125 290h2M223 309h2M153 292h2M206 290h2M166 302h2M153 292h2M134 288h2M194 325h2M161 312h2M178 305h2M164 320h2M180 301h2M162 316h2M156 292h2M163 296h2M194 310h2M167 295h2M197 312h2M211 319h2M164 295h2M162 305h2M184 311h2M203 284h2M170 283h2M147 293h2M155 288h2M135 316h2M160 316h2M147 269h2M155 314h2M156 308h2M144 321h2M176 318h2M161 320h2M170 296h2M154 303h2M150 285h2M170 313h2M161 314h2M203 288h2M174 290h2M154 304h2M185 312h2M180 329h2M159 318h2M198 312h2M131 298h2M164 280h2M166 313h2M163 300h2M200 297h2M148 302h2M191 313h2M170 296h2M193 317h2M131 305h2M182 295h2M141 297h2M131 308h2M159 277h2M166 320h2M142 296h2M206 309h2M156 305h2M185 290h2M168 280h2M136 279h2M185 309h2M182 321h2M169 306h2M176 310h2M146 297h2M165 303h2M152 300h2M174 306h2M179 315h2M179 317h2M184 324h2M182 295h2M216 323h2M193 315h2M170 287h2M178 299h2M162 272h2M202 289h2M144 308h2M181 293h2M168 307h2M171 311h2M185 299h2M132 331h2M161 288h2M183 312h2M152 335h2M167 307h2M175 300h2M176 285h2M158 328h2M122 287h2M187 299h2M158 281h2M166 300h2M156 280h2M171 309h2M191 312h2M199 322h2M167 288h2M176 317h2M137 283h2M183 296h2M198 308h2M158 283h2M182 280h2M142 282h2M202 330h2M164 297h2M181 322h2M149 332h2M162 318h2M151 330h2M165 285h2M210 297h2M169 285h2M182 307h2M162 297h2M157 292h2M137 317h2M188 285h2M143 307h2M216 304h2M162 299h2M173 301h2M190 319h2M178 326h2M164 295h2M233 281h2M138 267h2M177 289h2M193 275h2M166 297h2M144 317h2M159 309h2M157 304h2M158 303h2M167 293h2M177 301h2M149 287h2M176 322h2M141 295h2M176 318h2M184 288h2M168 316h2M173 300h2M143 303h2M167 303h2M198 322h2M151 305h2M161 304h2M201 319h2M170 294h2M164 308h2M156 318h2M170 286h2M214 266h2M162 301h2M188 320h2M197 327h2M175 305h2M189 304h2M142 294h2M181 313h2M143 318h2M176 282h2M177 318h2M180 300h2M150 317h2M173 303h2M161 288h2M129 295h2M190 316h2M152 323h2M164 289h2M187 324h2M161 285h2M169 269h2M167 324h2M175 293h2M183 297h2M195 300h2M211 302h2M173 290h2M141 306h2M176 290h2M180 298h2M156 301h2M175 314h2M194 310h2M153 292h2M177 287h2M165 297h2M166 305h2M188 328h2M185 319h2M144 316h2M197 286h2M222 299h2M170 292h2M155 317h2M174 298h2M193 292h2M151 294h2M152 311h2M164 288h2M161 274h2M171 305h2M181 301h2M177 291h2M168 305h2M142 309h2M171 304h2M156 330h2M169 292h2M149 310h2M164 292h2M152 315h2M169 318h2M169 286h2M186 309h2M155 298h2M147 313h2M159 309h2M174 300h2M176 300h2M144 295h2M142 312h2M182 296h2M181 307h2M189 292h2M170 289h2M152 321h2M127 287h2M177 315h2M154 273h2M132 305h2M190 318h2M151 321h2M163 311h2M162 325h2M160 272h2M161 305h2M175 293h2M164 287h2M163 304h2M171 326h2M126 307h2M178 288h2M169 303h2M146 311h2M207 316h2M183 319h2M164 316h2M151 304h2M181 322h2M162 298h2M178 303h2M170 314h2M151 314h2M176 300h2M143 292h2M166 316h2M126 310h2M173 288h2M185 310h2M178 290h2M144 314h2M197 310h2M164 296h2M131 314h2M165 320h2M152 316h2M152 310h2M197 296h2M187 304h2M148 304h2M182 294h2M163 295h2M152 299h2M186 297h2M194 300h2M152 317h2M198 296h2M181 288h2M160 297h2M184 287h2M158 293h2M171 286h2M137 340h2M174 283h2M187 286h2M127 323h2M195 293h2M145 308h2M209 315h2M183 288h2M131 305h2M189 307h2M166 322h2M149 317h2M186 296h2M170 305h2M181 290h2M163 304h2M169 303h2M173 301h2M157 316h2M155 298h2M151 286h2M177 303h2M165 309h2M164 312h2M205 311h2M161 325h2M184 281h2M195 308h2M187 289h2M151 293h2M181 288h2M152 315h2M155 304h2M151 278h2M166 301h2M137 314h2M184 317h2M159 286h2M166 305h2M165 295h2M148 291h2M167 296h2M203 302h2M178 297h2M165 289h2M160 282h2M124 318h2M146 307h2M166 295h2M184 297h2M177 299h2M187 318h2M168 318h2M177 325h2M167 282h2M172 307h2M161 300h2M164 285h2M204 295h2M148 280h2M151 301h2M198 314h2M154 285h2M145 300h2M186 298h2M199 332h2M174 274h2M190 303h2M181 318h2M147 302h2M172 293h2M182 302h2M158 328h2M170 326h2M164 317h2M152 304h2M192 275h2M179 300h2M190 307h2M168 285h2M229 298h2M162 293h2M161 305h2M139 315h2M162 311h2M125 292h2M162 297h2M154 306h2M177 290h2M127 310h2M160 317h2M186 303h2M139 296h2M152 319h2M132 313h2M137 293h2M140 291h2M158 307h2M155 311h2M204 308h2M145 299h2M166 298h2M190 321h2M208 313h2M182 293h2M155 314h2M172 288h2M159 260h2M169 286h2M168 287h2M149 294h2M226 291h2M144 294h2M189 316h2M182 300h2M171 293h2M165 292h2M139 287h2M207 312h2M153 300h2M157 319h2M168 294h2M181 308h2M155 291h2M173 281h2M148 315h2M184 320h2M159 294h2M163 296h2M194 302h2M196 295h2M174 326h2M153 293h2M157 280h2M162 294h2M213 300h2M123 312h2M187 304h2M173 313h2M156 303h2M169 326h2M196 308h2M139 313h2M165 319h2M169 305h2M182 294h2M152 333h2M149 314h2M181 315h2M197 287h2M190 276h2M168 308h2M188 319h2M149 298h2M165 293h2M152 293h2M190 323h2M181 327h2M171 288h2M154 305h2M187 321h2M148 315h2M156 310h2M185 325h2M157 305h2M177 298h2M169 311h2M135 291h2M214 313h2M158 277h2M148 308h2M181 310h2M180 296h2M201 290h2M178 300h2M132 313h2M161 312h2M218 303h2M154 296h2M173 328h2M204 331h2M201 285h2M206 319h2M172 309h2M165 275h2M173 315h2M164 256h2M149 321h2M183 322h2M151 292h2M142 285h2M192 303h2M160 306h2M132 292h2M126 271h2M131 278h2M228 327h2M217 289h2M196 278h2M158 305h2M123 304h2M196 259h2M171 303h2M138 311h2M180 286h2M230 305h2M200 336h2M159 296h2M190 349h2M194 304h2M134 283h2M179 306h2M145 296h2M149 312h2M197 289h2M160 276h2M160 343h2M175 317h2M195 329h2M165 282h2M210 318h2M154 322h2M175 299h2M236 310h2M186 294h2M182 321h2M191 285h2M190 298h2M186 296h2M163 256h2M126 340h2M198 291h2M186 256h2M184 319h2M182 274h2M208 289h2M157 304h2M165 340h2M171 342h2M190 275h2M175 301h2M223 325h2M260 287h2M161 346h2M146 307h2M229 280h2M164 285h2M193 308h2M174 313h2M149 293h2M191 340h2M174 301h2M219 301h2M219 305h2M214 304h2M145 283h2M190 337h2M237 294h2M259 278h2M147 318h2M125 318h2M188 312h2M135 308h2M207 299h2M210 300h2M187 294h2M130 297h2M192 285h2M219 296h2M150 325h2M170 270h2M161 282h2M169 282h2M178 309h2M156 296h2M170 316h2M152 315h2M217 296h2M143 294h2M136 297h2M163 310h2M179 308h2M174 306h2M138 313h2M219 322h2M131 308h2M121 315h2M169 291h2M151 295h2M175 281h2M177 305h2M193 299h2M175 346h2M209 306h2M129 312h2M195 247h2M170 308h2M177 302h2M170 328h2M188 294h2M168 342h2M147 289h2M186 303h2M186 327h2M214 308h2M177 299h2M168 320h2M133 279h2M160 281h2M151 324h2M132 295h2M156 280h2M126 301h2M162 322h2M238 294h2M149 294h2M191 319h2M144 309h2M175 323h2M162 296h2M147 274h2M185 314h2M213 305h2M160 282h2M137 286h2M187 302h2M166 279h2M175 311h2M141 273h2M165 305h2M167 331h2M181 280h2M202 287h2M199 302h2M217 280h2M200 309h2M145 314h2M252 307h2M150 297h2M219 305h2M225 287h2M220 268h2M170 294h2M159 324h2M155 307h2M238 317h2M162 285h2M206 322h2M184 343h2M202 254h2M146 316h2M162 317h2M262 285h2M250 298h2M126 302h2M206 288h2M229 283h2M169 318h2M169 289h2M175 313h2M234 327h2M239 299h2M162 280h2M158 299h2M178 318h2M145 323h2M177 315h2M218 275h2M230 286h2M189 322h2M207 269h2M181 323h2M172 298h2M178 333h2M157 281h2M138 289h2M168 307h2M173 266h2M123 314h2M200 273h2M208 251h2M255 312h2M175 291h2M163 296h2M172 282h2M157 311h2M194 273h2M159 331h2M200 333h2M130 279h2M163 279h2M139 286h2M170 317h2M195 265h2M227 293h2M142 299h2M162 272h2M229 288h2M156 311h2M233 310h2M145 309h2M214 308h2M198 290h2M174 266h2M152 277h2M176 330h2M144 298h2M216 284h2M149 324h2M189 311h2M204 285h2M184 287h2M151 303h2M191 274h2M150 312h2M182 313h2M165 284h2M203 312h2M150 313h2M229 294h2M143 305h2M179 311h2M128 305h2M206 314h2M197 324h2M148 325h2M183 280h2M166 305h2M187 327h2M182 290h2M251 293h2M148 319h2M162 284h2M140 324h2M140 302h2M160 296h2M148 303h2M197 321h2M164 277h2M125 300h2M177 303h2M128 287h2M151 314h2M162 312h2M194 261h2M168 325h2M159 303h2M172 275h2M250 297h2M198 291h2M224 323h2M216 319h2M200 328h2M190 303h2M204 282h2M181 286h2M167 281h2M147 304h2M180 317h2M173 313h2M199 286h2M167 289h2M251 286h2M192 285h2M200 275h2M208 304h2M162 276h2M233 289h2M225 252h2M135 336h2M237 301h2M210 312h2M164 303h2M137 273h2M180 315h2M181 276h2M205 302h2M202 294h2M167 321h2M223 276h2M138 320h2M188 301h2M143 320h2M182 305h2M189 290h2M190 303h2M201 308h2M132 286h2M167 323h2M154 323h2M213 318h2M253 300h2M187 325h2M190 320h2M172 329h2M188 262h2M213 296h2M146 294h2M166 323h2M187 299h2M175 282h2M154 291h2M168 277h2M162 320h2M191 300h2M188 295h2M136 318h2M253 310h2M199 349h2M135 311h2M164 295h2M190 268h2M168 291h2M142 313h2M232 309h2M211 315h2M174 312h2M221 292h2M171 273h2M207 308h2M185 326h2M179 316h2M223 284h2M146 308h2M174 289h2M172 286h2M181 293h2M234 280h2M196 302h2M230 281h2M160 335h2M154 293h2M163 281h2M218 330h2M171 285h2M130 313h2M158 311h2M197 309h2M180 300h2M164 292h2M181 310h2M208 296h2M218 282h2M241 319h2M162 355h2M225 332h2M135 298h2M192 321h2M179 275h2M218 297h2M191 294h2M172 273h2M199 288h2M175 319h2M204 276h2M170 300h2M179 279h2M179 320h2M218 329h2M202 250h2M167 289h2M207 300h2M188 310h2M169 327h2M238 316h2M157 305h2M209 314h2M153 319h2M201 312h2M162 300h2M161 294h2M166 294h2M179 302h2M155 298h2M173 310h2M191 293h2M148 268h2M133 308h2M145 332h2M171 293h2M171 289h2M155 302h2M127 303h2M173 282h2M211 307h2M213 287h2M134 277h2M122 263h2M229 291h2M183 290h2M171 331h2M181 282h2M200 326h2M206 315h2M170 320h2M149 277h2M167 295h2M218 281h2M215 285h2M133 267h2M175 272h2M183 301h2M162 262h2M158 309h2M177 289h2M183 313h2M175 285h2M203 287h2M188 319h2M221 332h2M211 303h2M169 304h2M194 359h2M198 284h2M228 269h2M210 275h2M139 290h2M166 273h2M197 298h2M222 280h2M168 319h2M179 339h2M134 262h2M161 328h2M230 273h2M155 264h2M147 281h2M191 323h2M257 293h2M204 304h2M180 338h2M200 331h2M186 317h2M193 298h2M152 292h2M176 293h2M164 286h2M205 295h2M172 296h2M221 289h2M224 283h2M228 312h2M159 309h2M215 281h2M168 306h2M169 294h2M177 306h2M202 329h2M165 358h2M165 335h2M172 271h2M161 293h2M212 260h2M155 297h2M198 308h2M205 297h2M168 324h2M235 308h2M181 283h2M248 308h2M197 268h2M197 348h2M171 296h2M228 296h2M205 339h2M136 284h2M199 302h2M177 297h2M180 307h2M160 295h2M184 279h2M191 257h2M198 298h2M136 327h2M136 341h2M151 324h2M174 332h2M156 409h2M154 340h2M168 395h2M168 424h2M145 350h2M165 368h2M158 384h2M144 410h2M158 427h2M165 409h2M154 368h2M150 363h2M169 387h2M139 348h2M143 341h2M142 348h2M174 357h2M148 381h2M161 394h2M175 399h2M153 414h2M167 367h2M190 356h2M170 414h2M162 392h2M163 400h2M165 384h2M174 339h2M165 377h2M199 391h2M147 400h2M152 356h2M155 396h2M184 409h2M165 380h2M164 413h2M158 412h2M144 384h2M175 401h2M164 372h2M125 374h2M143 375h2M191 366h2M177 384h2M138 387h2M175 356h2M137 375h2M174 370h2M168 395h2M160 395h2M185 380h2M167 359h2M146 382h2M176 368h2M133 406h2M139 387h2M170 362h2M167 410h2M155 401h2M163 362h2M148 370h2M186 412h2M165 347h2M150 375h2M166 353h2M152 373h2M196 400h2M175 386h2M135 406h2M147 338h2M174 376h2M160 396h2M156 394h2M185 376h2M153 384h2M173 375h2M162 368h2M159 397h2M144 380h2M131 367h2M162 397h2M140 382h2M142 392h2M165 395h2M156 350h2M149 352h2M147 383h2M181 369h2M145 389h2M130 408h2M179 407h2M158 401h2M153 407h2M147 365h2M167 373h2M173 364h2M165 361h2M158 435h2M139 355h2M129 379h2M192 373h2M178 380h2M148 432h2M181 341h2M141 394h2M173 379h2M166 397h2M153 408h2M144 402h2M178 389h2M153 384h2M132 336h2M175 362h2M167 385h2M126 363h2M155 395h2M161 354h2M150 387h2M135 374h2M194 405h2M151 406h2M140 420h2M153 387h2M149 386h2M166 385h2M144 402h2M171 384h2M180 367h2M185 380h2M189 374h2M155 389h2M181 418h2M151 367h2M175 413h2M174 376h2M185 383h2M163 399h2M164 401h2M169 397h2M163 409h2M162 419h2M161 403h2M149 391h2M168 387h2M190 385h2M182 392h2M181 363h2M153 407h2M144 393h2M171 389h2M168 397h2M155 394h2M150 373h2M129 382h2M127 385h2M164 358h2M161 391h2M153 362h2M158 394h2M178 430h2M168 369h2M166 434h2M162 416h2M181 374h2M190 342h2M156 368h2M164 385h2M182 370h2M197 344h2M158 399h2M177 376h2M151 397h2M129 352h2M168 411h2M183 368h2M170 342h2M131 397h2M152 360h2M203 336h2M140 411h2M161 411h2M159 427h2M159 381h2M169 392h2M131 362h2M155 392h2M136 367h2M146 392h2M152 398h2M168 362h2M154 355h2M162 403h2M141 342h2M170 377h2M159 395h2M167 406h2M151 377h2M152 393h2M155 415h2M148 384h2M153 434h2M141 360h2M153 402h2M160 380h2M156 378h2M194 393h2M168 407h2M143 355h2M153 419h2M179 370h2M136 406h2M181 358h2M191 366h2M175 379h2M154 369h2M174 399h2M176 377h2M143 435h2M193 379h2M138 420h2M163 385h2M177 392h2M162 431h2M141 386h2M157 390h2M206 374h2M178 399h2M166 372h2M172 390h2M188 404h2M190 396h2M163 370h2M209 416h2M162 375h2M171 416h2M170 407h2M165 393h2M135 387h2M161 382h2M155 391h2M149 379h2M134 439h2M142 355h2M149 374h2M192 408h2M153 397h2M138 345h2M167 398h2M146 384h2M181 388h2M164 398h2M135 390h2M148 339h2M178 380h2M180 432h2M127 353h2M181 418h2M168 393h2M174 400h2M135 402h2M180 374h2M142 372h2M148 397h2M175 385h2M154 342h2M152 360h2M149 392h2M143 371h2M137 378h2M154 408h2M173 371h2M146 389h2M170 380h2M157 384h2M138 390h2M171 385h2M137 384h2M158 392h2M152 404h2M182 404h2M165 413h2M159 380h2M132 384h2M184 361h2M175 354h2M166 427h2M161 356h2M166 381h2M176 372h2M126 373h2M172 408h2M165 385h2M174 379h2M151 389h2M182 372h2M170 369h2M145 388h2M133 364h2M136 370h2M142 439h2M172 386h2M169 369h2M181 375h2M134 369h2M130 351h2M174 372h2M174 371h2M155 371h2M149 369h2M190 383h2M185 410h2M158 380h2M150 387h2M169 384h2M144 361h2M193 424h2M135 369h2M159 398h2M158 390h2M167 411h2M134 410h2M169 397h2M130 379h2M155 399h2M173 400h2M134 413h2M161 406h2M160 368h2M212 399h2M175 373h2M155 410h2M169 425h2M184 359h2M129 411h2M172 378h2M154 371h2M196 380h2M132 405h2M158 392h2M152 383h2M146 375h2M166 414h2M171 408h2M142 392h2M168 406h2M147 380h2M150 411h2M181 374h2M157 389h2M142 382h2M177 402h2M146 369h2M157 350h2M166 387h2M133 379h2M146 378h2M142 416h2M140 402h2M164 417h2M159 384h2M161 341h2M208 379h2M153 358h2M157 421h2M145 394h2M180 406h2M152 344h2M168 397h2M153 374h2M195 348h2M149 370h2M128 368h2M144 413h2M125 353h2M165 349h2M136 362h2M156 395h2M147 378h2M174 381h2M174 371h2M169 413h2M153 377h2M156 395h2M136 385h2M148 417h2M125 399h2M153 367h2M162 379h2M160 390h2M184 375h2M196 412h2M191 389h2M165 361h2M186 358h2M144 384h2M164 392h2M136 376h2M169 411h2M175 394h2M154 372h2M149 382h2M170 373h2M201 362h2M176 380h2M157 376h2M190 378h2M171 387h2M175 398h2M193 368h2M143 423h2M185 386h2M154 390h2M186 367h2M189 383h2M152 375h2M133 372h2M142 390h2M174 385h2M163 394h2M192 397h2M255 381h2M234 285h2M237 319h2M237 291h2M166 347h2M157 295h2M221 399h2M254 372h2M173 336h2M203 360h2M245 355h2M251 338h2M185 250h2M169 339h2M129 330h2M143 296h2M241 423h2M143 359h2M190 255h2M166 349h2M182 356h2M136 364h2M206 281h2M201 427h2M242 365h2M195 391h2M186 383h2M176 353h2M222 359h2M205 319h2M173 372h2M185 330h2M176 301h2M208 416h2M153 371h2M196 369h2M213 322h2M129 315h2M195 367h2M247 373h2M212 313h2M230 269h2M241 340h2M186 380h2M197 439h2M143 256h2M204 288h2M157 440h2M196 301h2M175 288h2M160 270h2M253 388h2M174 265h2M253 418h2M140 414h2M199 437h2M184 329h2M129 357h2M159 417h2M157 417h2M171 402h2M219 427h2M202 315h2M162 290h2M141 303h2M169 405h2M129 342h2M193 275h2M217 285h2M223 277h2M240 305h2M140 273h2M154 270h2M168 434h2M176 321h2M224 258h2M139 415h2M170 278h2M152 390h2M253 322h2M219 335h2M154 306h2M171 293h2M230 262h2M177 388h2M132 433h2M207 372h2M153 284h2M236 435h2M130 404h2M154 259h2M204 263h2M236 409h2M165 272h2M194 391h2M133 382h2M144 318h2M149 260h2M196 303h2M245 421h2M221 344h2M211 309h2M188 351h2M182 331h2M237 438h2M222 412h2M167 259h2M157 342h2M226 388h2M245 397h2M166 255h2M190 309h2M239 422h2M197 396h2M221 346h2M185 431h2M230 356h2M254 273h2M226 352h2M169 269h2M202 414h2M150 420h2M254 282h2M199 339h2M171 267h2M162 429h2M236 430h2M192 342h2M136 328h2M202 439h2" stroke="#e4282a" stroke-width="2" stroke-opacity="0.65"/>
<rect x="33.4" y="100.8" width="147.6" height="122.3" fill="none" stroke="#8a8a8a" stroke-width="0.9"/>
<line x1="72.3" y1="100.8" x2="72.3" y2="223.1" stroke="#8a8a8a" stroke-width="0.9"/>
<line x1="33.4" y1="174.6" x2="181" y2="174.6" stroke="#8a8a8a" stroke-width="0.9"/>
<path d="M33.4 223.1v-2.4M44.5 223.1v-1.4M51.0 223.1v-1.4M55.6 223.1v-1.4M59.2 223.1v-1.4M62.1 223.1v-1.4M64.6 223.1v-1.4M66.7 223.1v-1.4M68.6 223.1v-1.4M70.3 223.1v-2.4M81.4 223.1v-1.4M87.9 223.1v-1.4M92.5 223.1v-1.4M96.1 223.1v-1.4M99.0 223.1v-1.4M101.5 223.1v-1.4M103.6 223.1v-1.4M105.5 223.1v-1.4M107.2 223.1v-2.4M118.3 223.1v-1.4M124.8 223.1v-1.4M129.4 223.1v-1.4M133.0 223.1v-1.4M135.9 223.1v-1.4M138.4 223.1v-1.4M140.5 223.1v-1.4M142.4 223.1v-1.4M144.1 223.1v-2.4M155.2 223.1v-1.4M161.7 223.1v-1.4M166.3 223.1v-1.4M169.9 223.1v-1.4M172.8 223.1v-1.4M175.3 223.1v-1.4M177.4 223.1v-1.4M179.3 223.1v-1.4" stroke="#333" stroke-width="0.6"/>
<path d="M33.4 223.1h2.4M33.4 213.9h1.4M33.4 208.5h1.4M33.4 204.7h1.4M33.4 201.7h1.4M33.4 199.3h1.4M33.4 197.3h1.4M33.4 195.5h1.4M33.4 193.9h1.4M33.4 192.5h2.4M33.4 183.3h1.4M33.4 177.9h1.4M33.4 174.1h1.4M33.4 171.2h1.4M33.4 168.7h1.4M33.4 166.7h1.4M33.4 164.9h1.4M33.4 163.3h1.4M33.4 161.9h2.4M33.4 152.7h1.4M33.4 147.4h1.4M33.4 143.5h1.4M33.4 140.6h1.4M33.4 138.2h1.4M33.4 136.1h1.4M33.4 134.3h1.4M33.4 132.8h1.4M33.4 131.4h2.4M33.4 122.2h1.4M33.4 116.8h1.4M33.4 113.0h1.4M33.4 110.0h1.4M33.4 107.6h1.4M33.4 105.5h1.4M33.4 103.8h1.4M33.4 102.2h1.4" stroke="#333" stroke-width="0.6"/>
<rect x="36.5" y="115.8" width="26.1" height="54.2" fill="none" stroke="#1a1a1a" stroke-width="1.4"/>
<rect x="36.5" y="177.2" width="27" height="43.1" fill="none" stroke="#1a1a1a" stroke-width="1.4"/>
<rect x="71.8" y="116.5" width="66.2" height="54" fill="none" stroke="#1a1a1a" stroke-width="1.4"/>
<rect x="71.8" y="177.2" width="66.2" height="43.6" fill="none" stroke="#1a1a1a" stroke-width="1.4"/>
<line x1="49.8" y1="115.8" x2="49.8" y2="65.5" stroke="#1a1a1a" stroke-width="1.3"/>
<line x1="49.2" y1="65.5" x2="244" y2="65.5" stroke="#000" stroke-width="1.15"/>
<path d="M251.00,65.50 L243.00,63.30 L243.00,67.70 Z" fill="#000"/>
<line x1="138" y1="132" x2="244" y2="132" stroke="#000" stroke-width="1.15"/>
<path d="M251.00,132.00 L243.00,129.80 L243.00,134.20 Z" fill="#000"/>
<line x1="138" y1="197.6" x2="244" y2="197.6" stroke="#000" stroke-width="1.15"/>
<path d="M251.00,197.60 L243.00,195.40 L243.00,199.80 Z" fill="#000"/>
<line x1="50.2" y1="220.3" x2="50.2" y2="262.4" stroke="#1a1a1a" stroke-width="1.3"/>
<line x1="49.6" y1="262.4" x2="244" y2="262.4" stroke="#000" stroke-width="1.15"/>
<path d="M251.00,262.40 L243.00,260.20 L243.00,264.60 Z" fill="#000"/>
<text x="55" y="78.5" font-size="11.5" font-weight="bold" textLength="86.5" lengthAdjust="spacingAndGlyphs">GFP<tspan font-size="10.9" dy="-4.6">-</tspan><tspan dy="4.6"> PDGFR</tspan><tspan font-family="Liberation Serif, serif" font-weight="normal">&#945;</tspan><tspan font-size="10.6" dy="-3.0">+</tspan></text>
<text x="143" y="129.5" font-size="12" font-weight="bold" textLength="92" lengthAdjust="spacingAndGlyphs">GFP<tspan font-size="11.0" dy="-3.1">+</tspan><tspan dy="3.1"> PDGFR</tspan><tspan font-family="Liberation Serif, serif" font-weight="normal">&#945;</tspan><tspan font-size="11.0" dy="-3.1">+</tspan></text>
<text x="143" y="194.5" font-size="12" font-weight="bold" textLength="90" lengthAdjust="spacingAndGlyphs">GFP<tspan font-size="11.0" dy="-3.1">+</tspan><tspan dy="3.1"> PDGFR</tspan><tspan font-family="Liberation Serif, serif" font-weight="normal">&#945;</tspan><tspan font-size="11.4" dy="-4.8">-</tspan></text>
<text x="55" y="275" font-size="11.5" font-weight="bold" textLength="86" lengthAdjust="spacingAndGlyphs">GFP<tspan font-size="10.9" dy="-4.6">-</tspan><tspan dy="4.6"> PDGFR</tspan><tspan font-family="Liberation Serif, serif" font-weight="normal">&#945;</tspan><tspan font-size="10.9" dy="-4.6">-</tspan></text>
<text x="384.8" y="12" font-size="14.5" font-weight="bold" text-anchor="middle" fill="#000" textLength="128.8" lengthAdjust="spacingAndGlyphs">Culture for 3 Days</text>
<text x="384.4" y="29.8" font-size="14.5" font-weight="bold" text-anchor="middle" fill="#000" textLength="158.8" lengthAdjust="spacingAndGlyphs">in BMP4, VEGF &amp; SCF</text>
<line x1="343.5" y1="65.8" x2="417" y2="65.8" stroke="#000" stroke-width="1.15"/>
<path d="M424.00,65.80 L416.00,63.60 L416.00,68.00 Z" fill="#000"/>
<line x1="343.5" y1="131.5" x2="417" y2="131.5" stroke="#000" stroke-width="1.15"/>
<path d="M424.00,131.50 L416.00,129.30 L416.00,133.70 Z" fill="#000"/>
<line x1="343.5" y1="197.5" x2="417" y2="197.5" stroke="#000" stroke-width="1.15"/>
<path d="M424.00,197.50 L416.00,195.30 L416.00,199.70 Z" fill="#000"/>
<line x1="343.5" y1="262.3" x2="417" y2="262.3" stroke="#000" stroke-width="1.15"/>
<path d="M424.00,262.30 L416.00,260.10 L416.00,264.50 Z" fill="#000"/>
<path transform="scale(.5)" d="M559 128h3M571 130h3M550 137h3M542 117h3M536 125h3M550 131h3M560 128h3M558 120h3M537 129h3M556 135h3M544 117h3M542 126h3M545 120h3M548 119h3M549 116h3M531 119h3M564 114h3M555 135h3M541 125h3M561 124h3M539 123h3M549 118h3M543 114h3M551 124h3M549 117h3M551 119h3M549 121h3M540 111h3M530 114h3M544 110h3M550 143h3M558 110h3M545 116h3M553 108h3M549 124h3M551 126h3M547 104h3M543 113h3M551 120h3M547 133h3M545 139h3M554 107h3M540 134h3M541 134h3M541 121h3M556 106h3M547 118h3M548 139h3M551 109h3M555 118h3M548 134h3M543 132h3M548 113h3M543 108h3M557 124h3M555 111h3M554 110h3M549 122h3M540 125h3M546 113h3M539 109h3M559 124h3M543 129h3M538 110h3M549 138h3M549 124h3M563 106h3M575 111h3M545 109h3M534 120h3M569 113h3M540 125h3M536 119h3M554 100h3M543 119h3M541 121h3M541 112h3M558 142h3M554 113h3M560 127h3M538 128h3M540 128h3M555 134h3M536 121h3M546 110h3M550 129h3M533 116h3M535 109h3M536 136h3M540 118h3M555 132h3M560 101h3M553 104h3M540 118h3M541 142h3M544 134h3M544 121h3M551 126h3M551 105h3M551 125h3M536 156h3M542 155h3M546 152h3M564 136h3M570 132h3M572 126h3" stroke="#111" stroke-width="3" stroke-opacity="0.9"/>
<path transform="scale(.5)" d="M586 253h3M583 241h3M593 242h3M596 264h3M577 251h3M588 251h3M563 257h3M562 250h3M601 262h3M572 253h3M570 254h3M559 261h3M578 248h3M572 249h3M570 249h3M595 261h3M583 258h3M563 231h3M598 261h3M581 257h3M581 254h3M575 232h3M585 254h3M591 257h3M574 260h3M580 250h3M573 250h3M574 250h3M577 265h3M572 252h3M568 241h3M567 249h3M580 251h3M562 250h3M598 245h3M579 264h3M568 248h3M571 256h3M579 255h3M584 251h3M580 241h3M574 269h3M581 248h3M580 264h3M569 250h3M577 248h3M579 255h3M563 248h3M562 257h3M581 260h3M567 249h3M592 258h3M586 256h3M583 263h3M594 274h3M575 262h3M589 258h3M581 242h3M592 245h3M570 246h3M585 245h3M584 259h3M579 251h3M586 267h3M572 244h3M570 245h3M575 252h3M567 250h3M565 256h3M589 236h3M581 269h3M574 263h3M582 245h3M591 248h3M583 250h3M575 255h3M595 238h3M564 255h3M591 252h3M576 259h3M598 245h3M588 241h3M593 263h3M588 246h3M561 260h3M586 232h3M596 240h3M570 226h3" stroke="#d42828" stroke-width="3" stroke-opacity="0.9"/>
<path transform="scale(.5)" d="M553 269h3M558 272h3M550 262h3M555 269h3M551 257h3M547 272h3M554 256h3M545 257h3M545 258h3M549 267h3M546 244h3M549 249h3M556 260h3M543 254h3M552 262h3M542 261h3M554 272h3M558 261h3M545 258h3M556 253h3M559 253h3M546 270h3M540 288h3M539 303h3M532 316h3M544 280h3M553 284h3" stroke="#111" stroke-width="3" stroke-opacity="1.0"/>
<path transform="scale(.5)" d="M572 428h3M570 424h3M567 448h3M580 422h3M578 434h3M567 426h3M575 417h3M564 421h3M570 419h3M580 425h3M592 435h3M569 415h3M578 419h3M570 421h3M580 426h3M595 415h3M572 428h3M568 418h3M592 406h3M577 402h3M577 400h3M560 438h3M590 426h3M576 410h3M569 407h3M572 423h3M574 434h3M566 396h3M560 408h3M569 418h3M573 441h3M573 410h3M570 413h3M570 431h3M561 433h3M593 443h3M591 425h3M572 427h3M569 412h3M580 406h3M569 413h3M578 442h3M570 422h3M579 436h3M584 432h3M566 431h3M573 403h3M587 431h3M588 423h3M581 423h3M575 435h3M574 432h3M573 439h3M580 403h3M591 429h3M567 416h3M595 425h3M579 431h3M566 446h3M596 414h3M585 404h3M569 425h3M574 431h3M577 429h3M572 428h3M567 449h3M574 439h3M574 422h3M571 408h3M596 429h3M574 418h3M587 420h3M568 417h3M590 428h3M571 416h3M587 428h3M569 435h3M583 412h3M586 438h3M570 407h3M585 420h3M571 420h3M570 434h3M561 431h3M586 437h3M581 427h3M571 423h3M563 445h3M572 411h3M582 443h3M576 420h3M561 432h3M570 416h3M580 408h3M581 394h3M566 406h3M570 434h3M566 418h3M584 415h3M589 421h3M572 412h3M586 423h3M568 412h3M566 423h3M565 434h3M574 390h3M579 410h3M585 397h3M582 381h3M567 406h3M573 397h3M580 400h3M579 391h3M571 408h3M569 382h3M571 405h3M592 397h3M568 402h3M577 407h3M570 372h3M568 378h3" stroke="#d42828" stroke-width="3" stroke-opacity="0.9"/>
<path transform="scale(.5)" d="M556 431h3M556 426h3M550 418h3M561 440h3M558 426h3M554 425h3M553 437h3M553 409h3M547 444h3M551 407h3M556 447h3M557 415h3M557 408h3M553 420h3M554 432h3M556 449h3M558 416h3M555 407h3M551 415h3M558 410h3M547 405h3M549 417h3M553 402h3M551 414h3M556 429h3" stroke="#111" stroke-width="3" stroke-opacity="1.0"/>
<path transform="scale(.5)" d="M553 562h3M547 565h3M534 559h3M559 563h3M555 571h3M555 562h3M549 561h3M534 554h3M546 550h3M545 557h3M545 552h3M549 562h3M530 552h3M543 550h3M545 568h3M537 576h3M553 567h3M546 568h3M540 575h3M538 543h3M542 568h3M549 555h3M553 557h3M547 570h3M544 574h3M538 581h3M546 560h3M562 564h3M530 576h3M554 559h3M535 574h3M543 556h3M539 565h3M550 577h3M538 577h3M531 570h3M541 568h3M539 558h3M545 574h3M539 555h3M532 568h3M547 570h3M538 560h3M556 561h3M543 573h3M555 567h3M545 581h3M539 549h3M537 561h3M552 567h3M552 565h3M543 559h3M533 568h3M545 569h3M538 560h3M545 569h3M558 557h3M550 572h3M540 565h3M542 577h3M562 567h3M540 572h3M546 562h3M548 571h3M539 571h3M540 565h3M531 577h3M539 565h3M542 570h3M538 570h3M536 551h3M546 565h3M549 547h3M543 559h3M541 561h3M539 558h3M550 549h3M529 567h3M558 558h3M535 554h3M534 575h3M548 572h3M545 566h3M538 556h3M539 575h3M537 564h3M555 563h3M547 559h3M557 554h3M547 562h3M544 567h3M553 571h3M550 567h3M534 575h3M554 568h3M548 562h3M531 572h3M537 580h3M548 564h3M538 565h3M549 525h3M565 533h3M566 535h3M559 525h3M553 519h3M541 538h3" stroke="#111" stroke-width="3" stroke-opacity="0.9"/>
<rect x="263.5" y="35.4" width="70.19999999999999" height="60.199999999999996" fill="none" stroke="#666" stroke-width="0.9"/>
<line x1="280" y1="35.4" x2="280" y2="95.6" stroke="#777" stroke-width="0.9"/>
<line x1="263.5" y1="73.5" x2="333.7" y2="73.5" stroke="#666" stroke-width="0.9"/>
<path d="M263.5 95.6v-2.4M268.8 95.6v-1.4M271.9 95.6v-1.4M274.1 95.6v-1.4M275.8 95.6v-1.4M277.2 95.6v-1.4M278.3 95.6v-1.4M279.3 95.6v-1.4M280.2 95.6v-1.4M281.1 95.6v-2.4M286.3 95.6v-1.4M289.4 95.6v-1.4M291.6 95.6v-1.4M293.3 95.6v-1.4M294.7 95.6v-1.4M295.9 95.6v-1.4M296.9 95.6v-1.4M297.8 95.6v-1.4M298.6 95.6v-2.4M303.9 95.6v-1.4M307.0 95.6v-1.4M309.2 95.6v-1.4M310.9 95.6v-1.4M312.3 95.6v-1.4M313.4 95.6v-1.4M314.4 95.6v-1.4M315.3 95.6v-1.4M316.1 95.6v-2.4M321.4 95.6v-1.4M324.5 95.6v-1.4M326.7 95.6v-1.4M328.4 95.6v-1.4M329.8 95.6v-1.4M331.0 95.6v-1.4M332.0 95.6v-1.4M332.9 95.6v-1.4" stroke="#333" stroke-width="0.6"/>
<path d="M263.5 95.6h2.4M263.5 91.1h1.4M263.5 88.4h1.4M263.5 86.5h1.4M263.5 85.1h1.4M263.5 83.9h1.4M263.5 82.9h1.4M263.5 82.0h1.4M263.5 81.2h1.4M263.5 80.5h2.4M263.5 76.0h1.4M263.5 73.4h1.4M263.5 71.5h1.4M263.5 70.0h1.4M263.5 68.8h1.4M263.5 67.8h1.4M263.5 67.0h1.4M263.5 66.2h1.4M263.5 65.5h2.4M263.5 61.0h1.4M263.5 58.3h1.4M263.5 56.4h1.4M263.5 55.0h1.4M263.5 53.8h1.4M263.5 52.8h1.4M263.5 51.9h1.4M263.5 51.1h1.4M263.5 50.4h2.4M263.5 45.9h1.4M263.5 43.3h1.4M263.5 41.4h1.4M263.5 39.9h1.4M263.5 38.7h1.4M263.5 37.7h1.4M263.5 36.9h1.4M263.5 36.1h1.4" stroke="#333" stroke-width="0.6"/>
<rect x="263.5" y="100.8" width="70.19999999999999" height="60.500000000000014" fill="none" stroke="#666" stroke-width="0.9"/>
<line x1="280" y1="100.8" x2="280" y2="161.3" stroke="#777" stroke-width="0.9"/>
<line x1="263.5" y1="138.3" x2="333.7" y2="138.3" stroke="#666" stroke-width="0.9"/>
<path d="M263.5 161.3v-2.4M268.8 161.3v-1.4M271.9 161.3v-1.4M274.1 161.3v-1.4M275.8 161.3v-1.4M277.2 161.3v-1.4M278.3 161.3v-1.4M279.3 161.3v-1.4M280.2 161.3v-1.4M281.1 161.3v-2.4M286.3 161.3v-1.4M289.4 161.3v-1.4M291.6 161.3v-1.4M293.3 161.3v-1.4M294.7 161.3v-1.4M295.9 161.3v-1.4M296.9 161.3v-1.4M297.8 161.3v-1.4M298.6 161.3v-2.4M303.9 161.3v-1.4M307.0 161.3v-1.4M309.2 161.3v-1.4M310.9 161.3v-1.4M312.3 161.3v-1.4M313.4 161.3v-1.4M314.4 161.3v-1.4M315.3 161.3v-1.4M316.1 161.3v-2.4M321.4 161.3v-1.4M324.5 161.3v-1.4M326.7 161.3v-1.4M328.4 161.3v-1.4M329.8 161.3v-1.4M331.0 161.3v-1.4M332.0 161.3v-1.4M332.9 161.3v-1.4" stroke="#333" stroke-width="0.6"/>
<path d="M263.5 161.3h2.4M263.5 156.7h1.4M263.5 154.1h1.4M263.5 152.2h1.4M263.5 150.7h1.4M263.5 149.5h1.4M263.5 148.5h1.4M263.5 147.6h1.4M263.5 146.9h1.4M263.5 146.2h2.4M263.5 141.6h1.4M263.5 139.0h1.4M263.5 137.1h1.4M263.5 135.6h1.4M263.5 134.4h1.4M263.5 133.4h1.4M263.5 132.5h1.4M263.5 131.7h1.4M263.5 131.1h2.4M263.5 126.5h1.4M263.5 123.8h1.4M263.5 121.9h1.4M263.5 120.5h1.4M263.5 119.3h1.4M263.5 118.3h1.4M263.5 117.4h1.4M263.5 116.6h1.4M263.5 115.9h2.4M263.5 111.4h1.4M263.5 108.7h1.4M263.5 106.8h1.4M263.5 105.4h1.4M263.5 104.2h1.4M263.5 103.1h1.4M263.5 102.3h1.4M263.5 101.5h1.4" stroke="#333" stroke-width="0.6"/>
<rect x="263.5" y="165.4" width="70.19999999999999" height="60.0" fill="none" stroke="#666" stroke-width="0.9"/>
<line x1="280" y1="165.4" x2="280" y2="225.4" stroke="#777" stroke-width="0.9"/>
<line x1="263.5" y1="202.7" x2="333.7" y2="202.7" stroke="#666" stroke-width="0.9"/>
<path d="M263.5 225.4v-2.4M268.8 225.4v-1.4M271.9 225.4v-1.4M274.1 225.4v-1.4M275.8 225.4v-1.4M277.2 225.4v-1.4M278.3 225.4v-1.4M279.3 225.4v-1.4M280.2 225.4v-1.4M281.1 225.4v-2.4M286.3 225.4v-1.4M289.4 225.4v-1.4M291.6 225.4v-1.4M293.3 225.4v-1.4M294.7 225.4v-1.4M295.9 225.4v-1.4M296.9 225.4v-1.4M297.8 225.4v-1.4M298.6 225.4v-2.4M303.9 225.4v-1.4M307.0 225.4v-1.4M309.2 225.4v-1.4M310.9 225.4v-1.4M312.3 225.4v-1.4M313.4 225.4v-1.4M314.4 225.4v-1.4M315.3 225.4v-1.4M316.1 225.4v-2.4M321.4 225.4v-1.4M324.5 225.4v-1.4M326.7 225.4v-1.4M328.4 225.4v-1.4M329.8 225.4v-1.4M331.0 225.4v-1.4M332.0 225.4v-1.4M332.9 225.4v-1.4" stroke="#333" stroke-width="0.6"/>
<path d="M263.5 225.4h2.4M263.5 220.9h1.4M263.5 218.2h1.4M263.5 216.4h1.4M263.5 214.9h1.4M263.5 213.7h1.4M263.5 212.7h1.4M263.5 211.9h1.4M263.5 211.1h1.4M263.5 210.4h2.4M263.5 205.9h1.4M263.5 203.2h1.4M263.5 201.4h1.4M263.5 199.9h1.4M263.5 198.7h1.4M263.5 197.7h1.4M263.5 196.9h1.4M263.5 196.1h1.4M263.5 195.4h2.4M263.5 190.9h1.4M263.5 188.2h1.4M263.5 186.4h1.4M263.5 184.9h1.4M263.5 183.7h1.4M263.5 182.7h1.4M263.5 181.9h1.4M263.5 181.1h1.4M263.5 180.4h2.4M263.5 175.9h1.4M263.5 173.2h1.4M263.5 171.4h1.4M263.5 169.9h1.4M263.5 168.7h1.4M263.5 167.7h1.4M263.5 166.9h1.4M263.5 166.1h1.4" stroke="#333" stroke-width="0.6"/>
<rect x="263.5" y="231.2" width="70.19999999999999" height="60.900000000000034" fill="none" stroke="#666" stroke-width="0.9"/>
<line x1="280" y1="231.2" x2="280" y2="292.1" stroke="#777" stroke-width="0.9"/>
<line x1="263.5" y1="268.7" x2="333.7" y2="268.7" stroke="#666" stroke-width="0.9"/>
<path d="M263.5 292.1v-2.4M268.8 292.1v-1.4M271.9 292.1v-1.4M274.1 292.1v-1.4M275.8 292.1v-1.4M277.2 292.1v-1.4M278.3 292.1v-1.4M279.3 292.1v-1.4M280.2 292.1v-1.4M281.1 292.1v-2.4M286.3 292.1v-1.4M289.4 292.1v-1.4M291.6 292.1v-1.4M293.3 292.1v-1.4M294.7 292.1v-1.4M295.9 292.1v-1.4M296.9 292.1v-1.4M297.8 292.1v-1.4M298.6 292.1v-2.4M303.9 292.1v-1.4M307.0 292.1v-1.4M309.2 292.1v-1.4M310.9 292.1v-1.4M312.3 292.1v-1.4M313.4 292.1v-1.4M314.4 292.1v-1.4M315.3 292.1v-1.4M316.1 292.1v-2.4M321.4 292.1v-1.4M324.5 292.1v-1.4M326.7 292.1v-1.4M328.4 292.1v-1.4M329.8 292.1v-1.4M331.0 292.1v-1.4M332.0 292.1v-1.4M332.9 292.1v-1.4" stroke="#333" stroke-width="0.6"/>
<path d="M263.5 292.1h2.4M263.5 287.5h1.4M263.5 284.8h1.4M263.5 282.9h1.4M263.5 281.5h1.4M263.5 280.3h1.4M263.5 279.2h1.4M263.5 278.4h1.4M263.5 277.6h1.4M263.5 276.9h2.4M263.5 272.3h1.4M263.5 269.6h1.4M263.5 267.7h1.4M263.5 266.2h1.4M263.5 265.0h1.4M263.5 264.0h1.4M263.5 263.1h1.4M263.5 262.3h1.4M263.5 261.6h2.4M263.5 257.1h1.4M263.5 254.4h1.4M263.5 252.5h1.4M263.5 251.0h1.4M263.5 249.8h1.4M263.5 248.8h1.4M263.5 247.9h1.4M263.5 247.1h1.4M263.5 246.4h2.4M263.5 241.8h1.4M263.5 239.2h1.4M263.5 237.3h1.4M263.5 235.8h1.4M263.5 234.6h1.4M263.5 233.6h1.4M263.5 232.7h1.4M263.5 231.9h1.4" stroke="#333" stroke-width="0.6"/>
<text x="263.8" y="46.2" font-size="11.5" font-weight="bold" fill="#000" textLength="21" lengthAdjust="spacingAndGlyphs">92.6</text>
<text x="331.5" y="111.7" font-size="11.5" font-weight="bold" text-anchor="end" fill="#d42020" textLength="21" lengthAdjust="spacingAndGlyphs">75.2</text>
<text x="331.5" y="223" font-size="11.5" font-weight="bold" text-anchor="end" fill="#d42020" textLength="20.5" lengthAdjust="spacingAndGlyphs">71.3</text>
<text x="264" y="264.6" font-size="11.5" font-weight="bold" fill="#000" textLength="21" lengthAdjust="spacingAndGlyphs">95.0</text>
<defs><filter id="bl2" x="-50%" y="-50%" width="200%" height="200%"><feGaussianBlur stdDeviation="2.5"/></filter></defs>
<ellipse cx="446" cy="52" rx="5" ry="6" fill="#000" opacity="0.3" filter="url(#bl2)"/>
<ellipse cx="456" cy="114" rx="8" ry="5" fill="#d02020" opacity="0.25" filter="url(#bl2)"/>
<ellipse cx="448" cy="117" rx="3" ry="5" fill="#000" opacity="0.2" filter="url(#bl2)"/>
<ellipse cx="458" cy="180" rx="8" ry="6" fill="#d02020" opacity="0.22" filter="url(#bl2)"/>
<ellipse cx="446.5" cy="180" rx="3.5" ry="5" fill="#000" opacity="0.2" filter="url(#bl2)"/>
<ellipse cx="445.5" cy="280" rx="4" ry="4" fill="#000" opacity="0.25" filter="url(#bl2)"/>
<path transform="scale(.5)" d="M896 103h2M885 104h2M886 96h2M891 121h2M881 108h2M884 103h2M893 98h2M903 108h2M888 91h2M893 99h2M899 96h2M900 100h2M893 102h2M896 113h2M889 97h2M904 112h2M904 112h2M893 117h2M888 101h2M890 109h2M887 103h2M887 102h2M899 113h2M891 124h2M888 108h2M889 86h2M885 114h2M882 127h2M891 106h2M900 104h2M888 99h2M886 108h2M889 108h2M883 101h2M905 107h2M892 114h2M894 116h2M885 110h2M886 109h2M907 116h2M887 107h2M895 98h2M894 95h2M898 111h2M891 110h2M907 103h2M881 107h2M889 98h2M898 112h2M896 117h2M888 101h2M891 104h2M886 106h2M899 99h2M896 103h2M891 105h2M902 108h2M896 105h2M879 112h2M892 105h2M889 92h2M901 119h2M902 89h2M896 95h2M891 100h2M888 98h2M889 110h2M902 111h2M892 103h2M891 104h2M888 103h2M897 102h2M887 103h2M893 103h2M891 110h2M892 96h2M896 98h2M897 111h2M895 106h2M884 102h2M893 109h2M885 103h2M883 105h2M893 105h2M902 110h2M891 99h2M889 110h2M898 100h2M891 101h2M896 106h2M888 97h2M900 93h2M905 100h2M897 109h2M897 113h2M889 104h2M898 108h2M887 98h2M883 106h2M889 92h2M889 107h2M893 102h2M893 109h2M885 97h2M898 110h2M883 98h2M901 110h2M891 112h2M901 115h2M883 94h2M889 104h2M890 106h2M901 113h2M898 104h2M903 108h2M894 104h2M881 121h2M892 111h2M906 102h2M885 112h2M894 96h2M898 104h2M886 107h2M886 112h2M906 107h2M894 103h2M898 104h2M899 115h2M898 96h2M896 102h2M894 112h2M888 106h2M901 97h2M891 110h2M891 112h2M886 92h2M895 103h2M894 112h2M899 101h2M890 89h2M886 106h2M893 92h2M897 104h2M899 101h2M898 95h2M880 98h2M897 107h2M880 105h2M896 117h2M897 108h2M882 107h2M880 102h2M890 96h2M886 103h2M896 99h2M894 110h2M892 119h2M890 98h2M880 113h2M896 103h2M894 103h2M898 104h2M894 103h2M887 86h2M896 94h2M895 109h2M904 98h2M893 112h2M888 99h2M895 120h2M899 112h2M886 109h2M899 94h2M892 102h2M896 90h2M897 104h2M890 87h2M879 100h2M896 107h2M897 91h2M893 115h2M882 109h2M887 108h2M893 91h2M885 114h2M891 114h2M894 111h2M890 106h2M890 111h2M888 113h2M902 94h2M891 108h2M903 113h2M893 90h2M897 99h2M893 107h2M883 112h2M898 109h2M896 107h2M883 100h2M897 101h2M892 107h2M893 106h2M895 104h2M885 102h2M898 99h2M895 106h2M892 98h2M888 111h2M887 107h2M893 106h2M905 88h2M898 103h2M890 99h2M892 104h2M886 117h2M887 103h2M884 105h2M894 113h2M898 100h2M902 103h2M902 118h2M890 96h2M896 115h2M895 113h2M896 111h2M900 102h2M883 103h2M887 95h2M891 110h2M880 92h2M897 97h2M890 115h2M899 107h2M896 107h2M883 105h2M895 103h2M897 111h2M892 102h2M885 113h2M888 107h2M902 110h2M884 103h2M888 91h2M887 109h2M894 102h2M893 95h2M887 103h2M897 101h2M891 107h2M901 94h2M895 105h2M892 106h2M880 104h2M891 94h2M897 103h2M890 110h2M886 98h2M897 111h2M905 100h2M883 92h2M885 105h2M891 99h2M886 99h2M890 113h2M896 115h2M897 110h2M899 108h2M902 113h2M904 106h2M887 124h2M890 108h2M890 99h2M895 95h2M891 115h2M893 110h2M896 107h2M893 109h2M886 109h2M885 98h2M888 93h2M880 107h2M895 109h2M906 105h2M897 98h2M897 95h2M904 96h2M889 110h2M878 115h2M886 106h2M898 105h2M898 100h2M896 87h2M902 99h2M887 104h2M903 98h2M892 101h2M886 94h2M896 110h2M887 106h2M895 107h2M891 104h2M894 96h2M891 110h2M889 114h2M891 95h2M890 93h2M896 91h2M892 102h2M890 107h2M894 100h2M897 100h2M898 115h2M894 111h2M884 108h2M883 103h2M887 98h2M886 104h2M896 95h2M888 89h2M888 87h2M883 108h2M898 98h2M894 98h2M899 118h2M888 100h2M902 116h2M892 109h2M882 102h2M890 103h2M894 92h2M885 121h2M881 104h2M897 108h2M892 91h2M889 92h2M904 107h2M897 106h2M890 113h2M898 109h2M896 110h2M890 107h2M893 102h2M896 121h2M879 115h2M889 114h2M886 103h2M898 103h2M894 94h2M885 117h2M893 103h2M883 96h2M885 104h2M891 99h2M888 105h2M899 93h2M883 113h2M883 101h2M893 118h2M891 112h2M893 98h2M893 88h2M897 116h2M891 110h2M885 116h2M888 98h2M887 90h2M896 120h2M883 102h2M895 100h2M882 107h2M898 105h2M885 102h2M880 104h2M900 113h2M891 107h2M889 105h2M888 105h2M889 106h2M896 104h2M884 108h2M890 100h2M896 97h2M898 108h2M888 98h2M891 97h2M898 86h2M893 101h2M885 109h2M889 108h2M889 102h2M895 112h2M898 104h2M901 101h2M883 89h2M883 97h2M881 107h2M892 104h2M894 103h2M890 101h2M892 95h2M900 116h2M892 122h2M886 111h2M882 109h2M887 112h2M893 112h2M896 108h2M890 117h2M894 108h2M901 102h2M903 113h2M893 92h2M900 102h2M893 105h2M898 109h2M881 99h2M894 105h2M897 109h2M902 98h2M900 107h2M894 109h2M890 110h2M891 110h2M887 113h2M882 99h2M892 106h2M887 101h2M894 112h2M900 100h2M892 102h2M882 100h2M899 93h2M910 112h2M903 105h2M878 108h2M902 99h2M900 110h2M897 110h2M896 109h2M900 107h2M896 107h2M893 97h2M881 96h2M884 92h2M896 101h2M900 129h2M897 100h2M894 102h2M894 121h2M902 114h2M894 118h2M897 111h2M885 99h2M893 102h2M889 88h2M887 103h2M894 95h2M891 118h2M893 88h2M891 104h2M900 106h2M901 107h2M899 115h2M902 106h2M884 106h2M895 98h2M897 103h2M897 106h2M886 112h2M905 111h2M894 90h2M894 104h2M887 89h2M895 112h2M897 122h2M880 107h2M892 115h2M892 96h2M892 108h2M887 98h2M894 111h2M891 108h2M889 101h2M893 112h2M902 103h2M895 120h2M897 101h2M895 93h2M879 98h2M888 93h2M899 100h2M893 105h2M891 95h2M904 88h2M892 110h2M891 103h2M894 106h2M890 113h2M895 116h2M893 88h2M882 100h2M895 91h2M889 114h2M894 98h2M891 105h2M889 102h2M888 106h2M902 116h2M884 123h2M891 93h2M883 105h2M894 99h2M887 102h2M894 109h2M896 85h2M888 106h2M894 110h2M883 117h2M885 102h2M889 100h2M887 111h2M897 107h2M884 99h2M892 107h2M889 102h2M908 105h2M890 84h2M887 117h2M897 95h2M897 105h2M887 110h2M888 102h2M892 106h2M889 106h2M892 106h2M895 99h2M884 103h2M900 107h2M894 98h2M885 94h2M886 101h2M883 103h2M882 109h2M892 90h2M889 106h2M894 110h2M890 103h2M891 108h2M888 103h2M893 101h2M885 115h2M895 97h2M904 98h2M887 101h2M895 116h2M901 108h2M893 109h2M887 98h2M895 106h2M894 96h2M894 93h2M898 104h2M888 100h2M909 129h2M888 115h2M892 106h2M886 94h2M894 101h2M895 113h2M891 108h2M893 106h2M889 106h2M895 105h2M889 92h2M886 117h2M898 106h2M894 103h2M896 112h2M891 107h2M898 91h2M886 99h2M885 101h2M887 101h2M895 95h2M893 115h2M893 94h2M888 113h2M891 99h2M897 98h2M885 109h2M892 99h2M895 113h2M899 105h2M895 108h2M883 117h2M888 100h2M887 96h2M899 104h2M889 89h2M893 104h2M886 103h2M881 109h2M885 108h2M893 87h2M885 99h2M897 109h2M896 117h2M890 100h2M881 96h2M896 97h2M887 112h2M900 90h2M895 104h2M898 101h2M891 115h2M888 107h2M896 103h2M898 108h2M897 90h2M886 106h2M899 116h2M892 98h2M885 89h2M889 109h2M892 92h2M892 104h2M888 116h2M895 113h2M893 96h2M899 113h2M889 93h2M897 100h2M885 103h2M896 98h2M892 112h2M897 92h2M897 118h2M898 103h2M894 91h2M889 100h2M905 104h2M886 118h2M900 91h2M891 91h2M899 86h2M904 96h2M886 121h2M895 107h2M897 96h2" stroke="#000" stroke-width="2" stroke-opacity="0.8"/>
<path transform="scale(.5)" d="M898 147h2M896 157h2M901 128h2M886 165h2M906 163h2M892 165h2M887 154h2M884 154h2M897 185h2M890 170h2M900 132h2M892 117h2M888 161h2M882 147h2M897 180h2M880 160h2M888 164h2M893 166h2M892 165h2M888 134h2M892 119h2M900 147h2M888 136h2M888 155h2M891 169h2M887 151h2M885 143h2M900 150h2M898 151h2M887 135h2M887 159h2M902 168h2M888 154h2M889 175h2M886 167h2M887 143h2M894 155h2M893 151h2M888 150h2M893 134h2M896 156h2M889 177h2M900 145h2M901 161h2M888 174h2M896 170h2M893 182h2M898 146h2M885 151h2M893 133h2M892 181h2M891 174h2M888 134h2M898 149h2M894 172h2M902 128h2M896 157h2M894 187h2M892 141h2M895 135h2M895 138h2M896 147h2M889 163h2M897 121h2M886 147h2M891 178h2M902 161h2M899 146h2M886 158h2M884 184h2M894 175h2M890 121h2M892 162h2M892 142h2M893 148h2M901 127h2M881 150h2M895 123h2M893 161h2M895 158h2M889 124h2M898 145h2M886 182h2M907 155h2M884 171h2M895 176h2M893 120h2M892 144h2M895 149h2M896 129h2M890 142h2M895 119h2M883 172h2M894 171h2M893 157h2M895 161h2M887 150h2M903 179h2M889 134h2M892 173h2M898 141h2M880 151h2M884 175h2M901 165h2M896 163h2M903 173h2M901 130h2M890 152h2M881 147h2M893 151h2M907 148h2M892 150h2M891 125h2M899 153h2M895 153h2M889 121h2M892 162h2M892 166h2M889 146h2M894 150h2M894 180h2M891 155h2M890 163h2M894 138h2M888 129h2M892 155h2M890 150h2M894 156h2M904 159h2M897 142h2M890 167h2M890 139h2M885 158h2M893 163h2M888 128h2M899 153h2M897 130h2M895 171h2M900 186h2M883 131h2M890 137h2M892 137h2M885 151h2M894 137h2M893 127h2M891 146h2M891 151h2M886 126h2M889 166h2M888 134h2M904 147h2M891 135h2M901 162h2M894 183h2M887 120h2M899 160h2M890 167h2M893 190h2M886 159h2M898 169h2M891 144h2M891 165h2M891 149h2M899 150h2M894 150h2M888 159h2M890 140h2M889 134h2M883 161h2M893 136h2" stroke="#222" stroke-width="2" stroke-opacity="0.45"/>
<path transform="scale(.5)" d="M911 110h2M922 105h2M923 110h2M910 108h2M915 108h2M916 119h2M904 105h2M906 120h2M910 99h2M914 102h2M927 102h2M916 110h2M926 95h2M916 92h2M918 113h2M910 100h2M923 105h2M920 98h2M912 99h2M926 90h2M910 114h2M913 94h2M916 100h2M913 106h2M920 90h2M916 114h2M904 101h2M905 107h2M907 99h2M911 106h2M904 91h2M915 113h2M910 105h2M916 103h2M914 98h2M912 111h2M917 112h2M908 103h2M909 92h2M921 100h2M916 91h2M912 101h2M911 110h2M918 103h2M916 99h2M909 100h2M906 101h2M913 111h2M911 121h2M910 103h2M914 97h2M913 88h2M923 97h2M914 88h2M918 92h2M924 94h2M908 107h2M924 87h2M901 115h2M917 90h2" stroke="#d04040" stroke-width="2" stroke-opacity="0.35"/>
<path transform="scale(.5)" d="M896 239h2M896 246h2M895 235h2M903 246h2M899 239h2M896 233h2M895 237h2M902 226h2M893 234h2M907 236h2M899 234h2M890 228h2M905 218h2M906 225h2M907 255h2M905 233h2M901 230h2M896 236h2M883 238h2M897 225h2M897 239h2M894 237h2M892 235h2M893 240h2M893 239h2M889 235h2M903 227h2M898 227h2M900 240h2M903 244h2M904 228h2M898 238h2M899 224h2M907 254h2M898 213h2M906 233h2M908 226h2M900 240h2M891 231h2M900 239h2M900 213h2M887 237h2M905 222h2M900 241h2M893 221h2M899 230h2M898 232h2M897 236h2M896 234h2M895 227h2M900 227h2M900 234h2M903 239h2M889 234h2M901 235h2M898 243h2M901 223h2M898 242h2M899 224h2M902 239h2M903 235h2M898 241h2M893 248h2M900 236h2M901 240h2M888 241h2M897 228h2M902 241h2M900 229h2M898 226h2M910 229h2M902 247h2M894 230h2M888 232h2M892 235h2M897 234h2M898 230h2M898 233h2M895 231h2M895 224h2M898 219h2M900 234h2M899 243h2M902 230h2M900 243h2M897 237h2M900 226h2M899 231h2M897 237h2M901 227h2M897 232h2M894 237h2M897 228h2M902 233h2M893 233h2M897 236h2M908 238h2M905 233h2M900 238h2M897 236h2M896 239h2M894 248h2M881 223h2M897 237h2M899 221h2M900 227h2M899 231h2M897 222h2M892 230h2M893 236h2M892 236h2M900 228h2M894 231h2M902 245h2M908 235h2M901 235h2M898 225h2M896 243h2M904 229h2M891 249h2M898 238h2M897 220h2M899 226h2M897 229h2M897 253h2M905 218h2M891 230h2M895 240h2M905 228h2M901 232h2M889 243h2M906 227h2M901 230h2M897 230h2M897 234h2M895 236h2M892 240h2M894 219h2M902 231h2M895 241h2M898 249h2M900 223h2M896 229h2M897 247h2M910 248h2M900 238h2M899 216h2M904 250h2M896 234h2M895 232h2M894 225h2M903 219h2M903 225h2M897 218h2M901 226h2M909 227h2M899 239h2M893 227h2M893 238h2M899 242h2M891 227h2M897 230h2M899 243h2M899 228h2M898 228h2M895 249h2M901 248h2M897 233h2M892 236h2M901 239h2M893 235h2M902 230h2M901 230h2M898 229h2M891 227h2M899 232h2M898 229h2M902 233h2M900 230h2M904 233h2M900 251h2M900 222h2M895 237h2M892 222h2M897 221h2M903 237h2M896 244h2M895 225h2M902 234h2M897 242h2M897 239h2M899 243h2M900 230h2M905 231h2M906 224h2M898 216h2M900 245h2M896 238h2M897 245h2M900 237h2M903 222h2M901 235h2M904 234h2M901 234h2M893 230h2M897 223h2M898 230h2M906 232h2M899 235h2M901 221h2M890 247h2M894 227h2M903 236h2M894 240h2M893 247h2M897 237h2M898 249h2M894 233h2M908 218h2M896 236h2M897 238h2M903 225h2M895 244h2M907 213h2M900 242h2M895 227h2M893 232h2M893 240h2M895 238h2M891 241h2M901 241h2M899 252h2M902 234h2M905 231h2M899 247h2M896 234h2M899 235h2M897 242h2M908 231h2M891 230h2M892 224h2M893 242h2M899 240h2M897 242h2M896 244h2M902 236h2M891 225h2M899 226h2M897 233h2M904 229h2M899 230h2M895 237h2M902 223h2M905 252h2M899 238h2M893 231h2M899 233h2M904 227h2M897 238h2M898 232h2M897 237h2M889 255h2M901 226h2M894 225h2M900 219h2M909 230h2M892 250h2M898 238h2M897 232h2M907 218h2M899 228h2M896 234h2M890 239h2M899 238h2M895 240h2M896 240h2M904 239h2M891 235h2M893 249h2M899 224h2M891 244h2M893 237h2M897 233h2M896 234h2M905 227h2M900 238h2M895 225h2M894 239h2M899 242h2M900 235h2M898 236h2M898 239h2M894 242h2M905 233h2M901 225h2M898 223h2M903 234h2M903 243h2M895 240h2M905 251h2" stroke="#000" stroke-width="2" stroke-opacity="0.75"/>
<path transform="scale(.5)" d="M895 290h2M892 291h2M898 306h2M894 281h2M897 277h2M887 271h2M898 280h2M897 253h2M898 290h2M903 295h2M892 267h2M890 271h2M895 302h2M903 281h2M898 277h2M889 289h2M892 252h2M891 306h2M889 304h2M888 279h2M897 273h2M890 280h2M903 292h2M896 290h2M901 304h2M894 265h2M890 281h2M894 280h2M892 305h2M891 266h2M889 261h2M887 266h2M894 292h2M886 288h2M894 280h2M885 289h2M898 300h2M894 302h2M895 264h2M898 297h2M896 280h2M894 292h2M886 285h2M889 271h2M896 302h2M895 264h2M908 286h2M882 278h2M891 269h2M900 318h2M896 257h2M899 282h2M893 284h2M889 284h2M897 301h2M905 269h2M897 266h2M896 300h2M898 275h2M904 296h2M901 282h2M901 278h2M899 281h2M895 253h2M900 290h2M892 281h2M898 291h2M885 306h2M890 314h2M901 283h2M896 285h2M893 307h2M892 271h2M894 252h2M900 259h2M902 297h2M905 270h2M894 272h2M899 264h2M895 284h2M905 265h2M900 290h2M899 261h2M878 272h2M900 283h2M902 318h2M892 273h2M903 251h2M883 285h2M897 307h2M899 279h2M892 248h2M898 269h2M893 286h2M885 279h2M892 316h2M894 300h2M890 252h2M899 274h2M888 299h2M898 250h2M894 316h2M896 256h2M891 305h2M902 292h2M888 295h2M891 271h2M893 299h2M898 290h2M893 271h2" stroke="#222" stroke-width="2" stroke-opacity="0.35"/>
<path transform="scale(.5)" d="M921 225h2M910 234h2M911 237h2M918 234h2M932 224h2M930 219h2M903 213h2M906 225h2M919 238h2M932 224h2M921 228h2M908 217h2M919 223h2M917 225h2M916 223h2M917 242h2M914 220h2M905 232h2M918 221h2M903 219h2M928 230h2M915 227h2M930 232h2M912 239h2M917 228h2M909 230h2M923 219h2M898 236h2M923 239h2M916 219h2M919 230h2M902 220h2M898 232h2M901 234h2M911 235h2M919 223h2M909 236h2M907 238h2M918 236h2M907 236h2M910 232h2M917 226h2M910 213h2M906 235h2M901 216h2M899 229h2M918 233h2M900 234h2M902 239h2M915 225h2M908 230h2M908 239h2M914 226h2M915 220h2M913 228h2M907 230h2M913 219h2M917 251h2M919 225h2M916 241h2M904 243h2M910 244h2M906 238h2M908 239h2M920 232h2M905 238h2M915 222h2M917 228h2M910 223h2M915 236h2M905 236h2M896 232h2M914 223h2M913 221h2M929 231h2M921 222h2M924 228h2M922 232h2M916 237h2M907 228h2M922 232h2M907 223h2M920 228h2M901 234h2M918 246h2M905 236h2M908 230h2M912 240h2M915 229h2M907 238h2M906 234h2M916 235h2M919 231h2M930 234h2M905 224h2M907 240h2M904 242h2M915 225h2M903 230h2M918 229h2M918 231h2M923 225h2M910 222h2M909 223h2M899 230h2M916 213h2M900 221h2M916 234h2M915 228h2M906 232h2M905 229h2M915 228h2M921 214h2M899 238h2M907 227h2M907 230h2M911 233h2M921 242h2M894 231h2M905 232h2M904 231h2M914 229h2M914 234h2M903 231h2M922 236h2M920 223h2M907 238h2M912 232h2M910 237h2M913 223h2M915 227h2M910 234h2M913 226h2M902 228h2M910 222h2M908 247h2M907 231h2M901 229h2M914 231h2M898 232h2M905 239h2M912 241h2M914 221h2M920 226h2M911 231h2M902 239h2M913 223h2M901 234h2M923 232h2M914 227h2M922 233h2M905 226h2M895 240h2M937 227h2M916 235h2M912 245h2M903 225h2M926 235h2M918 229h2M912 231h2M915 225h2M922 241h2M907 224h2M915 247h2M905 240h2M906 225h2M921 228h2M912 235h2M922 231h2M925 224h2M908 235h2M916 217h2M910 235h2M912 243h2M899 233h2M904 220h2M910 230h2M908 226h2M919 222h2M906 221h2M921 219h2M926 222h2M913 242h2M904 240h2M901 228h2M917 232h2M915 232h2M924 217h2M907 237h2M899 226h2M934 237h2M916 230h2M910 224h2M904 224h2M901 232h2M915 223h2M912 221h2M915 227h2M912 232h2M923 230h2M907 232h2M916 234h2M920 223h2M902 236h2M903 234h2M936 237h2M899 226h2M915 228h2M918 231h2M915 234h2M900 239h2M899 225h2M915 227h2M900 216h2M916 222h2M909 232h2M912 233h2M927 234h2M903 231h2M909 224h2M917 227h2M914 234h2M929 224h2M920 245h2M926 231h2M906 232h2M906 228h2M897 230h2M896 239h2M916 227h2M912 231h2M910 232h2M911 233h2M905 231h2M926 223h2M906 238h2M915 231h2M913 227h2M908 234h2M914 235h2M917 246h2M914 240h2M915 246h2M920 224h2M925 225h2M920 224h2M915 231h2M923 214h2M896 239h2M918 226h2M912 218h2M908 226h2M920 231h2M912 239h2M907 236h2M910 234h2M911 240h2M910 245h2M918 224h2M909 240h2M924 220h2M914 235h2M933 233h2M911 237h2M912 224h2M912 229h2M910 231h2M915 225h2M917 219h2M918 233h2M915 219h2M908 232h2M917 235h2M899 232h2M921 221h2M901 228h2M910 229h2M923 231h2M896 238h2M914 236h2M913 240h2M913 227h2M903 238h2M910 218h2M920 239h2M895 236h2M919 242h2M922 224h2M917 235h2M901 242h2M917 236h2M905 237h2M912 228h2M913 233h2M899 232h2M914 219h2M929 247h2M918 230h2M902 224h2M902 238h2M905 233h2M909 237h2M924 236h2M919 237h2M926 223h2M914 226h2M912 229h2M914 235h2M899 213h2M915 238h2M910 241h2M932 229h2M911 234h2M918 219h2M915 216h2M903 233h2M914 222h2M913 240h2M898 236h2M922 220h2M923 233h2M909 231h2M912 231h2M910 226h2M921 242h2M911 241h2M905 222h2M918 232h2M915 223h2M909 238h2M926 231h2M907 240h2M928 223h2M901 229h2M907 228h2M904 236h2M914 221h2M900 247h2M917 232h2M899 247h2M903 232h2M914 225h2M913 227h2M906 227h2M917 242h2M912 246h2M908 232h2M909 219h2M911 229h2M905 237h2M915 228h2M905 233h2M905 225h2M908 238h2M909 230h2M910 235h2M911 237h2M911 237h2M909 226h2M915 229h2M909 241h2M907 226h2M910 241h2M901 240h2M916 227h2M909 226h2M899 221h2M909 235h2M904 229h2M905 230h2M916 239h2M917 233h2M924 235h2M916 234h2M918 223h2M904 232h2M896 230h2M909 233h2M919 239h2M916 241h2M907 234h2M910 224h2M915 237h2M909 232h2M921 228h2M909 233h2M916 233h2M923 233h2M900 220h2M912 243h2M912 228h2M914 234h2M921 221h2M918 231h2M919 238h2M915 225h2M911 238h2M899 238h2M920 242h2M904 227h2M920 228h2M931 216h2M898 236h2M915 225h2M913 224h2M912 227h2M903 237h2M912 231h2M901 227h2M909 227h2M915 231h2M910 230h2M916 238h2M903 238h2M920 236h2M907 233h2M929 219h2M919 228h2M926 230h2M918 226h2M908 243h2M900 228h2M909 222h2M916 221h2M912 229h2M898 232h2M919 232h2M922 241h2M918 229h2M911 235h2M900 224h2M913 243h2M902 233h2M906 236h2M915 230h2M919 228h2M899 247h2M911 233h2M918 224h2M907 226h2M917 233h2M912 221h2M904 221h2M899 227h2M914 234h2M897 237h2M916 242h2M918 219h2M916 232h2M914 225h2M924 230h2M905 218h2M908 221h2M900 244h2M912 238h2M922 235h2M907 223h2M910 232h2M910 229h2M912 220h2M920 221h2M912 224h2M923 226h2M903 229h2M918 221h2M900 228h2M921 246h2M911 237h2M909 217h2M908 235h2M902 229h2M906 234h2M933 229h2M902 244h2M909 228h2M916 236h2M914 233h2M912 222h2M919 236h2M904 219h2" stroke="#c81c1c" stroke-width="2" stroke-opacity="0.7"/>
<path transform="scale(.5)" d="M912 230h2M937 231h2M920 231h2M900 225h2M921 235h2M929 244h2M911 225h2M914 233h2M944 230h2M921 220h2M903 245h2M918 242h2M930 224h2M922 220h2M927 227h2M929 240h2M912 236h2M925 224h2M923 240h2M921 238h2M924 241h2M918 226h2M927 207h2M913 243h2M910 246h2M940 224h2M910 232h2M931 245h2M939 222h2M930 224h2M933 233h2M937 228h2M930 217h2M907 233h2M921 237h2M948 223h2M905 219h2M912 240h2M924 226h2M928 227h2M923 229h2M902 236h2M922 250h2M921 223h2M922 222h2M919 225h2M924 220h2M918 225h2M907 228h2M928 235h2M923 228h2M932 226h2M928 212h2M904 222h2M934 226h2M925 218h2M900 255h2M940 245h2M920 222h2M923 226h2M922 208h2M913 214h2M945 217h2M915 232h2M916 231h2M931 223h2M926 227h2M903 231h2M906 238h2M920 230h2M932 221h2M910 242h2M929 233h2M908 223h2M899 213h2M914 232h2M913 227h2M921 241h2M912 230h2M955 228h2M930 217h2M906 224h2M959 223h2M938 224h2M904 211h2M922 238h2M910 225h2M905 222h2M933 223h2M906 234h2M923 228h2M946 231h2M935 217h2M919 240h2M929 237h2M901 226h2M941 242h2M937 236h2M921 236h2M936 219h2M934 236h2M913 243h2M936 237h2M914 231h2M920 244h2M952 220h2M946 233h2M911 222h2M940 231h2M911 227h2M915 227h2M944 222h2M927 237h2M947 223h2M916 225h2M904 228h2M910 226h2M922 236h2M921 251h2M924 233h2M927 227h2M933 230h2M902 223h2M940 213h2M943 229h2M923 240h2M923 224h2M904 235h2M921 219h2M936 237h2M950 231h2M904 229h2M930 237h2M902 233h2M929 232h2M898 224h2M918 226h2M932 225h2M926 221h2M919 239h2M913 228h2M901 217h2M928 239h2M911 227h2M924 224h2M921 225h2M928 223h2M914 215h2M910 214h2M918 238h2" stroke="#e03030" stroke-width="2" stroke-opacity="0.45"/>
<path transform="scale(.5)" d="M885 353h2M888 364h2M891 358h2M887 358h2M891 353h2M902 364h2M892 363h2M907 365h2M890 360h2M900 364h2M891 361h2M886 357h2M890 358h2M901 360h2M900 360h2M884 370h2M890 359h2M900 372h2M894 371h2M890 365h2M887 368h2M890 366h2M886 372h2M903 358h2M893 352h2M892 348h2M897 360h2M900 360h2M892 353h2M897 359h2M886 348h2M899 359h2M893 356h2M890 360h2M894 350h2M908 368h2M881 361h2M900 355h2M885 365h2M889 360h2M903 360h2M901 354h2M882 357h2M891 366h2M896 344h2M886 356h2M889 355h2M891 361h2M884 352h2M887 370h2M892 348h2M896 368h2M883 350h2M896 360h2M897 373h2M897 368h2M890 372h2M889 363h2M881 357h2M898 352h2M890 342h2M891 349h2M893 356h2M889 357h2M890 360h2M891 369h2M901 358h2M895 353h2M897 365h2M890 351h2M896 364h2M887 342h2M886 363h2M901 352h2M890 351h2M895 354h2M903 365h2M892 357h2M899 357h2M891 361h2M899 372h2M891 350h2M887 359h2M897 363h2M894 348h2M894 356h2M887 365h2M901 361h2M897 368h2M893 357h2M902 355h2M891 363h2M891 352h2M900 360h2M889 355h2M897 367h2M894 369h2M893 373h2M899 351h2M893 363h2M893 352h2M896 359h2M884 350h2M891 367h2M893 361h2M899 358h2M893 359h2M899 355h2M895 354h2M894 369h2M888 364h2M894 362h2M896 361h2M896 375h2M889 351h2M898 363h2M905 355h2M898 355h2M890 355h2M888 352h2M891 359h2M894 366h2M888 359h2M888 367h2M888 357h2M889 369h2M886 351h2M891 357h2M888 369h2M890 343h2M892 349h2M889 356h2M888 357h2M891 365h2M908 354h2M891 369h2M903 366h2M892 376h2M894 370h2M890 350h2M901 353h2M887 361h2M888 365h2M894 358h2M890 372h2M901 369h2M886 373h2M894 374h2M896 354h2M883 355h2M900 356h2M903 350h2M897 359h2M885 363h2M891 358h2M881 352h2M889 359h2M888 376h2M891 362h2M891 370h2M897 368h2M884 361h2M892 365h2M889 361h2M887 357h2M895 356h2M888 359h2M895 363h2M886 356h2M886 352h2M907 370h2M897 358h2M898 372h2M900 366h2M887 379h2M898 367h2M895 363h2M891 346h2M904 381h2M896 365h2M893 366h2M892 359h2M897 346h2M901 357h2M896 365h2M903 374h2M885 352h2M894 347h2M897 359h2M888 367h2M888 354h2M893 367h2M892 357h2M894 357h2M882 367h2M896 369h2M894 364h2M883 349h2M882 369h2M889 371h2M896 356h2M892 354h2M890 363h2M897 356h2M884 369h2M886 366h2M884 353h2M881 365h2M896 385h2M904 361h2M881 358h2M894 363h2M894 352h2M891 375h2M890 357h2M886 355h2M900 363h2M890 357h2M898 355h2M888 357h2M878 369h2M888 366h2M893 368h2M890 380h2M896 358h2M895 343h2M886 343h2M891 378h2M895 348h2M884 363h2M897 358h2M901 362h2M905 367h2M897 366h2M902 365h2M895 363h2M894 365h2M902 347h2M890 348h2M889 362h2M894 363h2M897 363h2M891 359h2M886 356h2M892 363h2M883 369h2M892 347h2M892 365h2M893 357h2M887 362h2M894 362h2M890 370h2M882 360h2M883 344h2M894 367h2M891 364h2M892 369h2M889 364h2M895 347h2M900 355h2" stroke="#000" stroke-width="2" stroke-opacity="0.75"/>
<path transform="scale(.5)" d="M887 397h2M902 402h2M902 391h2M898 375h2M893 436h2M891 414h2M881 443h2M894 419h2M893 389h2M893 403h2M887 407h2M888 400h2M898 414h2M894 418h2M909 417h2M896 408h2M898 423h2M878 452h2M903 419h2M891 408h2M889 437h2M890 378h2M894 393h2M897 413h2M889 379h2M893 384h2M894 413h2M892 413h2M892 443h2M881 388h2M904 385h2M900 405h2M895 382h2M892 407h2M879 410h2M897 403h2M883 433h2M894 387h2M888 416h2M891 424h2M885 415h2M899 420h2M889 391h2M886 412h2M893 434h2M893 436h2M893 430h2M903 415h2M885 418h2M896 404h2M893 423h2M879 421h2M908 396h2M905 401h2M893 403h2M895 395h2M891 405h2M888 408h2M903 393h2M897 395h2M886 409h2M893 429h2M901 411h2M890 436h2M885 395h2M901 418h2M900 405h2M901 433h2M880 420h2M903 389h2M888 417h2M900 409h2M882 414h2M894 402h2M896 398h2M900 403h2M908 413h2M891 378h2M893 409h2M907 417h2M896 392h2M897 391h2M884 418h2M892 383h2M904 433h2M899 377h2M889 390h2M902 407h2M889 382h2M889 413h2M893 419h2M899 387h2M902 410h2M908 407h2M892 407h2M905 420h2M904 430h2M894 405h2M904 387h2M898 429h2M888 372h2M884 432h2M914 392h2M885 385h2M907 424h2M900 395h2M900 395h2M900 395h2M885 401h2M898 416h2M891 427h2M900 406h2M895 400h2M899 414h2M906 391h2M886 407h2M893 403h2M879 416h2M908 416h2M905 421h2M897 417h2M904 418h2M900 408h2M890 416h2M892 421h2M878 444h2M906 439h2M898 389h2M892 386h2M899 410h2M897 373h2M906 419h2M896 402h2M882 402h2M892 393h2M897 425h2M902 380h2M907 406h2M893 416h2M904 412h2M893 413h2M899 450h2M896 391h2M911 439h2M907 391h2M891 382h2M895 435h2M903 410h2M898 419h2M895 389h2M890 442h2M888 387h2M900 403h2M893 412h2M895 377h2M903 414h2M909 426h2M891 401h2M902 396h2M904 413h2M895 441h2M888 444h2M893 452h2M905 399h2M910 418h2M899 402h2M896 401h2M893 425h2M902 434h2M905 408h2M902 404h2M901 422h2M899 394h2M887 443h2M890 397h2M899 402h2M899 436h2M884 411h2M901 382h2M902 439h2M896 419h2M894 429h2M892 410h2M891 395h2M905 408h2M903 378h2M887 392h2M911 432h2M914 401h2M901 417h2M894 421h2M896 419h2M882 389h2M888 443h2M903 391h2M900 398h2M887 392h2M920 411h2M895 434h2M898 388h2" stroke="#222" stroke-width="2" stroke-opacity="0.45"/>
<path transform="scale(.5)" d="M935 381h2M922 351h2M914 361h2M903 386h2M914 354h2M911 357h2M926 362h2M918 359h2M897 366h2M921 350h2M903 354h2M910 354h2M915 372h2M905 345h2M913 366h2M928 369h2M915 360h2M897 367h2M922 359h2M911 364h2M918 365h2M918 345h2M909 344h2M922 385h2M906 358h2M917 353h2M931 362h2M935 382h2M919 352h2M927 357h2M906 358h2M925 352h2M912 368h2M911 369h2M926 355h2M902 348h2M927 365h2M915 356h2M925 355h2M941 363h2M898 370h2M917 360h2M912 371h2M909 375h2M907 369h2M899 369h2M904 357h2M921 352h2M919 360h2M927 369h2M916 358h2M905 374h2M912 347h2M906 341h2M905 355h2M916 369h2M922 342h2M909 366h2M917 360h2M906 367h2M913 357h2M913 357h2M917 370h2M915 353h2M913 358h2M919 367h2M930 368h2M897 351h2M902 363h2M937 364h2M908 373h2M920 352h2M904 374h2M907 365h2M901 360h2M905 343h2M909 354h2M917 343h2M916 356h2M898 371h2M909 364h2M929 364h2M923 362h2M908 362h2M898 364h2M922 364h2M907 348h2M906 357h2M900 378h2M906 361h2M909 361h2M913 359h2M918 354h2M922 362h2M913 360h2M924 359h2M929 361h2M916 360h2M917 364h2M908 367h2M939 365h2M915 352h2M906 352h2M916 353h2M930 356h2M905 351h2M913 358h2M923 353h2M917 369h2M911 343h2M916 370h2M918 360h2M895 375h2M912 348h2M910 361h2M914 351h2M937 372h2M924 366h2M910 348h2M901 370h2M914 376h2M918 354h2M922 353h2M911 365h2M915 362h2M916 370h2M905 340h2M933 353h2M913 363h2M906 355h2M916 360h2M922 357h2M907 345h2M897 362h2M917 356h2M920 348h2M910 357h2M906 357h2M916 383h2M914 367h2M922 350h2M918 356h2M923 354h2M924 351h2M909 368h2M924 368h2M933 370h2M914 369h2M905 368h2M918 358h2M906 370h2M900 356h2M909 352h2M908 362h2M933 377h2M912 356h2M920 351h2M899 369h2M910 375h2M917 345h2M917 364h2M914 346h2M899 378h2M922 377h2M920 359h2M917 371h2M908 372h2M916 362h2M918 363h2M904 375h2M909 357h2M919 359h2M913 356h2M920 353h2M899 344h2M906 363h2M928 365h2M907 347h2M922 365h2M913 366h2M920 365h2M927 345h2M907 354h2M904 379h2M917 364h2M922 357h2M922 358h2M921 365h2M927 345h2M905 352h2M905 363h2M923 356h2M924 368h2M908 366h2M928 355h2M917 366h2M919 359h2M914 352h2M933 375h2M912 351h2M918 375h2M914 352h2M923 362h2M906 358h2M915 349h2M917 372h2M924 372h2M921 359h2M920 372h2M914 365h2M908 360h2M909 349h2M918 382h2M897 355h2M916 353h2M915 368h2M898 359h2M920 365h2M932 362h2M926 354h2M905 355h2M910 369h2M921 360h2M905 361h2M910 356h2M897 375h2M920 389h2M940 360h2M936 356h2M941 359h2M896 360h2M922 377h2M924 377h2M916 345h2M915 351h2M904 348h2M915 370h2M911 347h2M909 358h2M925 361h2M932 382h2M909 387h2M899 369h2M901 354h2M919 362h2M917 358h2M896 344h2M905 350h2M909 343h2M913 365h2M909 373h2M916 369h2M905 362h2M900 341h2M897 356h2M916 381h2M917 356h2M924 361h2M914 361h2M924 376h2M900 361h2M909 360h2M937 358h2M909 351h2M936 380h2M924 362h2M907 374h2M911 362h2M912 362h2M894 348h2M902 355h2M912 359h2M910 370h2M912 351h2M928 359h2M925 365h2M911 370h2M899 348h2M910 358h2M896 350h2M901 384h2M926 366h2M916 373h2M915 372h2M923 381h2M925 354h2M920 371h2M921 382h2M917 356h2M923 371h2M914 365h2M915 362h2M918 356h2M921 364h2M931 363h2M915 348h2M937 358h2M909 357h2M914 359h2M931 355h2M912 355h2M920 344h2M924 356h2M900 375h2M901 367h2M914 353h2M897 353h2M922 359h2M908 369h2M914 361h2M905 346h2M909 363h2M910 363h2M911 357h2M913 363h2M912 355h2M924 371h2M925 367h2M918 361h2M921 353h2M913 363h2M912 347h2M913 356h2M907 366h2M925 361h2M902 358h2M912 349h2M908 361h2M908 364h2M901 366h2M907 361h2M914 355h2M924 342h2M916 366h2M911 359h2M902 359h2M916 354h2M914 356h2M904 359h2M906 368h2M906 373h2M914 359h2M906 364h2M904 344h2M925 354h2M930 362h2M930 345h2M909 362h2M908 360h2M912 366h2M920 348h2M930 345h2M905 365h2M912 366h2M918 352h2M897 371h2M912 358h2M911 357h2M906 360h2M916 347h2M898 365h2M923 354h2M912 355h2M918 359h2M908 352h2M918 363h2M909 363h2M908 362h2M927 363h2M901 368h2M911 368h2M900 343h2M898 365h2M926 362h2M916 358h2M916 349h2M926 367h2M924 359h2M922 369h2M939 370h2M906 352h2M923 364h2M919 360h2M906 361h2M899 362h2M937 367h2M905 351h2M938 366h2M909 365h2M911 349h2M915 364h2M927 347h2M929 357h2M924 365h2M922 351h2M919 343h2M907 384h2M931 363h2M919 360h2M920 361h2M904 356h2M894 351h2M912 363h2M937 344h2M935 355h2M910 359h2M936 349h2M910 365h2M924 363h2M915 369h2M904 375h2M909 363h2M904 354h2M924 365h2M912 367h2M896 369h2M905 359h2M905 380h2M930 343h2M921 357h2" stroke="#c81c1c" stroke-width="2" stroke-opacity="0.65"/>
<path transform="scale(.5)" d="M944 385h2M908 372h2M921 409h2M921 370h2M913 394h2M915 410h2M934 382h2M922 373h2M945 376h2M925 355h2M917 382h2M919 380h2M936 392h2M933 369h2M912 379h2M925 379h2M921 400h2M916 356h2M931 404h2M896 380h2M936 380h2M913 396h2M909 378h2M899 382h2M940 387h2M899 370h2M907 353h2M932 388h2M917 405h2M932 369h2M921 377h2M920 402h2M941 362h2M952 351h2M916 422h2M931 400h2M922 388h2M909 405h2M917 370h2M896 418h2M896 361h2M928 380h2M948 390h2M925 366h2M929 354h2M908 404h2M924 359h2M910 377h2M925 383h2M932 347h2M913 382h2M937 369h2M898 365h2M924 422h2M900 370h2M908 399h2M929 377h2M925 407h2M915 360h2M920 358h2M924 395h2M914 396h2M940 412h2M914 390h2M933 394h2M936 388h2M931 396h2M928 390h2M925 379h2M921 370h2M913 402h2M916 340h2M912 378h2M940 385h2M929 370h2M911 352h2M930 380h2M909 381h2M938 396h2M933 400h2M924 380h2M920 388h2M921 364h2M911 400h2M914 378h2M944 363h2M919 372h2M912 377h2M929 375h2M935 393h2M903 381h2M917 357h2M925 401h2M946 393h2M926 402h2M918 373h2M936 391h2M912 373h2M900 416h2M914 371h2M910 371h2M922 381h2M933 336h2M922 409h2M921 369h2M953 371h2M931 384h2M918 362h2M923 383h2M950 353h2M895 389h2M915 400h2M944 364h2M906 377h2M946 376h2M933 377h2M903 384h2M927 367h2M952 380h2M927 354h2M912 384h2M932 390h2M897 354h2M902 399h2M922 379h2M919 365h2M926 378h2M917 384h2M916 376h2M938 392h2" stroke="#e03030" stroke-width="2" stroke-opacity="0.4"/>
<path transform="scale(.5)" d="M891 561h2M899 552h2M880 560h2M881 553h2M892 561h2M889 555h2M883 555h2M886 560h2M896 558h2M885 562h2M898 562h2M888 557h2M889 553h2M896 558h2M902 567h2M888 576h2M888 555h2M881 560h2M893 558h2M890 563h2M887 560h2M889 569h2M895 559h2M885 559h2M886 558h2M893 565h2M897 556h2M892 560h2M896 573h2M897 565h2M892 563h2M880 562h2M890 560h2M895 579h2M892 552h2M889 565h2M895 561h2M894 555h2M899 547h2M889 555h2M888 561h2M892 566h2M902 563h2M886 560h2M887 555h2M889 566h2M887 562h2M887 565h2M897 551h2M895 555h2M893 559h2M896 552h2M902 562h2M887 568h2M899 563h2M888 555h2M886 570h2M891 560h2M889 567h2M889 565h2M881 555h2M893 554h2M902 547h2M893 563h2M893 560h2M890 582h2M893 556h2M891 571h2M891 567h2M899 556h2M878 567h2M902 551h2M888 559h2M890 564h2M890 564h2M886 550h2M901 562h2M893 553h2M894 560h2M894 561h2M897 569h2M889 558h2M895 551h2M887 558h2M879 572h2M890 559h2M884 563h2M888 553h2M893 569h2M883 560h2M903 559h2M887 570h2M892 566h2M900 564h2M893 572h2M883 553h2M890 556h2M890 548h2M882 564h2M890 563h2M889 560h2M883 571h2M897 552h2M888 562h2M889 560h2M892 549h2M895 563h2M886 559h2M890 558h2M891 551h2M891 563h2M893 563h2M888 561h2M896 560h2M892 560h2M894 552h2M891 565h2M886 563h2M888 557h2M885 554h2M898 551h2M892 552h2M902 564h2M887 553h2M889 562h2M900 569h2M886 561h2M896 556h2M888 566h2M883 560h2M891 558h2M891 550h2M896 557h2M902 572h2M888 572h2M899 555h2M890 567h2M887 558h2M884 556h2M887 562h2M892 558h2M883 562h2M894 560h2M899 557h2M896 562h2M898 570h2M884 549h2M897 562h2M893 557h2M887 567h2M894 557h2M891 562h2M884 556h2M894 561h2M883 562h2M902 564h2M884 557h2M888 555h2M886 556h2M891 552h2M896 562h2M902 565h2M896 563h2M890 553h2M895 561h2M887 563h2M893 556h2M899 557h2M892 567h2M888 558h2M894 558h2M888 553h2M892 558h2M896 566h2M891 565h2M887 570h2M888 559h2M889 557h2M895 560h2M886 565h2M891 564h2M892 557h2M881 558h2M886 568h2M890 569h2M904 567h2M904 554h2M888 554h2M884 552h2M896 555h2M889 564h2M889 570h2M898 564h2M900 563h2M892 567h2M897 552h2M897 566h2M878 573h2M892 569h2M885 561h2M887 555h2M893 551h2M891 564h2M887 553h2M894 566h2M896 557h2M889 569h2M896 562h2M892 559h2M894 564h2M891 562h2M883 559h2M900 561h2M883 557h2M892 569h2M903 560h2M890 561h2M885 568h2M884 565h2M889 554h2M893 570h2M884 561h2M887 567h2M883 552h2M889 552h2M896 551h2M891 557h2M897 557h2M890 571h2M895 568h2M899 563h2M893 550h2M881 558h2M893 567h2M887 558h2M903 553h2M890 560h2M887 569h2M882 558h2M882 556h2M900 548h2M882 560h2M893 556h2M893 559h2M889 561h2M898 553h2M896 562h2M890 556h2M893 565h2M886 565h2M891 565h2M893 559h2M892 564h2M883 560h2M878 561h2M888 560h2M897 566h2M899 566h2M890 555h2M905 556h2M889 563h2M886 561h2M892 557h2M885 560h2M893 554h2M892 561h2M886 563h2M883 566h2M887 566h2M892 561h2M884 565h2M885 574h2M893 561h2M891 564h2M894 563h2M896 559h2M900 551h2M882 564h2M891 551h2M884 556h2M898 564h2M882 552h2M892 553h2M888 557h2M891 564h2M887 557h2M893 570h2M893 558h2M896 559h2M883 564h2M900 553h2M895 553h2M891 559h2M889 559h2M895 557h2M890 558h2M893 556h2M895 562h2M888 552h2M890 566h2M877 552h2M880 584h2M883 571h2M898 547h2M902 578h2M902 548h2M879 572h2M909 574h2M878 572h2M880 552h2M890 573h2M888 555h2M902 559h2M889 548h2M886 576h2M877 566h2M887 571h2M885 564h2M899 583h2M882 565h2M897 545h2M881 553h2M891 544h2M884 563h2M903 584h2M907 548h2M880 568h2M894 549h2M894 583h2M893 563h2" stroke="#000" stroke-width="2" stroke-opacity="0.65"/>
<path transform="scale(.5)" d="M914 574h2M932 559h2M917 565h2M921 553h2M928 566h2M923 577h2M937 565h2M916 560h2M919 552h2M914 557h2M925 569h2M915 552h2M920 545h2M918 564h2M924 558h2M924 569h2M917 552h2M915 565h2M923 546h2M936 566h2M922 551h2M926 538h2M934 566h2M920 565h2M928 543h2M923 550h2M916 560h2M916 555h2M922 558h2M922 569h2M927 572h2M930 563h2M931 563h2M927 557h2M918 581h2M929 547h2M914 563h2M929 571h2M928 574h2M926 570h2M915 574h2M932 552h2M918 563h2M925 565h2M933 565h2M918 560h2M930 560h2M925 558h2M917 554h2M927 559h2M916 582h2M916 563h2M913 577h2M923 560h2M919 542h2M931 562h2M930 554h2M933 556h2M920 582h2M916 562h2M919 563h2M921 561h2M924 558h2M932 569h2M917 571h2M927 571h2M919 560h2M926 580h2M917 566h2M915 564h2" stroke="#e04040" stroke-width="2" stroke-opacity="0.3"/>
<rect x="437.3" y="34.6" width="72.09999999999997" height="61.6" fill="none" stroke="#666" stroke-width="0.9"/>
<line x1="456.5" y1="34.6" x2="456.5" y2="96.2" stroke="#555" stroke-width="0.9"/>
<line x1="437.3" y1="71.2" x2="509.4" y2="71.2" stroke="#555" stroke-width="0.9"/>
<rect x="437.3" y="100.6" width="72.09999999999997" height="60.900000000000006" fill="none" stroke="#666" stroke-width="0.9"/>
<line x1="456.5" y1="100.6" x2="456.5" y2="161.5" stroke="#555" stroke-width="0.9"/>
<line x1="437.3" y1="137.1" x2="509.4" y2="137.1" stroke="#555" stroke-width="0.9"/>
<rect x="437.3" y="165.8" width="72.09999999999997" height="61.5" fill="none" stroke="#666" stroke-width="0.9"/>
<line x1="456.5" y1="165.8" x2="456.5" y2="227.3" stroke="#555" stroke-width="0.9"/>
<line x1="437.3" y1="202.7" x2="509.4" y2="202.7" stroke="#555" stroke-width="0.9"/>
<rect x="437.3" y="231.7" width="72.09999999999997" height="61.60000000000002" fill="none" stroke="#666" stroke-width="0.9"/>
<line x1="456.5" y1="231.7" x2="456.5" y2="293.3" stroke="#555" stroke-width="0.9"/>
<line x1="437.3" y1="268.3" x2="509.4" y2="268.3" stroke="#555" stroke-width="0.9"/>
<text x="438.2" y="43.8" font-size="11.5" font-weight="bold" fill="#000" textLength="20.63" lengthAdjust="spacingAndGlyphs">88.0</text>
<text x="507.5" y="43.8" font-size="11.5" font-weight="bold" text-anchor="end" fill="#000" textLength="14.73" lengthAdjust="spacingAndGlyphs">2.4</text>
<text x="507.5" y="69.6" font-size="11.5" font-weight="bold" text-anchor="end" fill="#d42030" textLength="14.73" lengthAdjust="spacingAndGlyphs">2.4</text>
<text x="507.5" y="94.6" font-size="11.5" font-weight="bold" text-anchor="end" fill="#000" textLength="14.73" lengthAdjust="spacingAndGlyphs">0.2</text>
<text x="438.2" y="110.2" font-size="11.5" font-weight="bold" fill="#000" textLength="20.63" lengthAdjust="spacingAndGlyphs">53.3</text>
<text x="507.5" y="110.2" font-size="11.5" font-weight="bold" text-anchor="end" fill="#000" textLength="20.63" lengthAdjust="spacingAndGlyphs">40.4</text>
<text x="507.5" y="134.6" font-size="11.5" font-weight="bold" text-anchor="end" fill="#d42030" textLength="20.63" lengthAdjust="spacingAndGlyphs">59.1</text>
<text x="507.5" y="160.2" font-size="11.5" font-weight="bold" text-anchor="end" fill="#000" textLength="14.73" lengthAdjust="spacingAndGlyphs">1.7</text>
<text x="438.2" y="175.4" font-size="11.5" font-weight="bold" fill="#000" textLength="20.63" lengthAdjust="spacingAndGlyphs">54.2</text>
<text x="507.5" y="175.4" font-size="11.5" font-weight="bold" text-anchor="end" fill="#000" textLength="20.63" lengthAdjust="spacingAndGlyphs">32.5</text>
<text x="507.5" y="200.4" font-size="11.5" font-weight="bold" text-anchor="end" fill="#d42030" textLength="20.63" lengthAdjust="spacingAndGlyphs">46.7</text>
<text x="507.5" y="224.8" font-size="11.5" font-weight="bold" text-anchor="end" fill="#000" textLength="14.73" lengthAdjust="spacingAndGlyphs">2.4</text>
<text x="438.8" y="242.7" font-size="11.5" font-weight="bold" fill="#000" textLength="14.73" lengthAdjust="spacingAndGlyphs">0.6</text>
<text x="507.5" y="242.7" font-size="11.5" font-weight="bold" text-anchor="end" fill="#000" textLength="14.73" lengthAdjust="spacingAndGlyphs">0.4</text>
<text x="507.5" y="266.3" font-size="11.5" font-weight="bold" text-anchor="end" fill="#d42030" textLength="20.63" lengthAdjust="spacingAndGlyphs">11.4</text>
<text x="507.5" y="290.8" font-size="11.5" font-weight="bold" text-anchor="end" fill="#000" textLength="14.73" lengthAdjust="spacingAndGlyphs">8.7</text>
<text x="1.5" y="338.2" font-size="16.5" font-weight="bold" fill="#000">B</text>
<defs>
<radialGradient id="c1"><stop offset="0" stop-color="#3e0606"/><stop offset="0.48" stop-color="#5a0c0c"/><stop offset="0.6" stop-color="#9a4a3a" stop-opacity="0.7"/><stop offset="0.78" stop-color="#f0c0a0" stop-opacity="0.45"/><stop offset="1" stop-color="#f4d8c0" stop-opacity="0"/></radialGradient>
<linearGradient id="v1" x1="0" x2="1" y1="0" y2="0"><stop offset="0" stop-color="#e2d6de"/><stop offset="0.3" stop-color="#e8e6e6" stop-opacity="0.3"/><stop offset="1" stop-color="#eef0ea" stop-opacity="0"/></linearGradient>
<linearGradient id="v2" x1="0" x2="0" y1="0" y2="1"><stop offset="0.7" stop-color="#e4dce2" stop-opacity="0"/><stop offset="1" stop-color="#e0d4de" stop-opacity="0.8"/></linearGradient>
<radialGradient id="c1r"><stop offset="0" stop-color="#8a0c0c"/><stop offset="0.5" stop-color="#a81818"/><stop offset="0.62" stop-color="#c85040" stop-opacity="0.7"/><stop offset="0.8" stop-color="#f0c0a0" stop-opacity="0.45"/><stop offset="1" stop-color="#f4d8c0" stop-opacity="0"/></radialGradient>
<radialGradient id="c2"><stop offset="0" stop-color="#5a2818"/><stop offset="0.4" stop-color="#7a3a24"/><stop offset="0.6" stop-color="#b86a40" stop-opacity="0.75"/><stop offset="0.8" stop-color="#f0b080" stop-opacity="0.4"/><stop offset="1" stop-color="#f4c8a8" stop-opacity="0"/></radialGradient>
<radialGradient id="c3"><stop offset="0" stop-color="#5a2022"/><stop offset="0.4" stop-color="#74302c"/><stop offset="0.6" stop-color="#a85a50" stop-opacity="0.7"/><stop offset="0.8" stop-color="#e8b0a8" stop-opacity="0.4"/><stop offset="1" stop-color="#f4d0c8" stop-opacity="0"/></radialGradient>
<radialGradient id="cg"><stop offset="0" stop-color="#808080" stop-opacity="0.75"/><stop offset="0.5" stop-color="#a0a0a0" stop-opacity="0.4"/><stop offset="1" stop-color="#c0c0c0" stop-opacity="0"/></radialGradient>
<radialGradient id="cp"><stop offset="0" stop-color="#c09090" stop-opacity="0.8"/><stop offset="1" stop-color="#d0b0b0" stop-opacity="0"/></radialGradient>
</defs>
<rect x="22" y="328.3" width="98" height="77.19999999999999" fill="#e8ebe3" stroke="none" stroke-width="1"/>
<rect x="121.7" y="328.3" width="98.49999999999999" height="77.19999999999999" fill="#dcdfdd" stroke="none" stroke-width="1"/>
<rect x="221.7" y="328.3" width="98.40000000000003" height="77.19999999999999" fill="#e6e2e3" stroke="none" stroke-width="1"/>
<rect x="321.3" y="328.3" width="98.09999999999997" height="77.19999999999999" fill="#e8e1e1" stroke="none" stroke-width="1"/>
<rect x="421.2" y="328.3" width="97.09999999999997" height="77.19999999999999" fill="#dfdce0" stroke="none" stroke-width="1"/>
<rect x="22" y="328.3" width="98" height="77.2" fill="url(#v1)"/>
<rect x="22" y="328.3" width="98" height="77.2" fill="url(#v2)"/>
<circle cx="34.5" cy="334.2" r="5.2" fill="url(#c1)"/>
<circle cx="39.3" cy="341.8" r="2.4" fill="url(#c1)"/>
<circle cx="42.5" cy="341.8" r="1.6" fill="url(#c1)"/>
<circle cx="63.7" cy="347.5" r="2.6" fill="url(#c1)"/>
<circle cx="99.6" cy="349.6" r="4.5" fill="url(#c1r)"/>
<circle cx="33.6" cy="354.9" r="3.0" fill="url(#c1)"/>
<circle cx="23" cy="363.4" r="1.9" fill="url(#c1)"/>
<circle cx="30.2" cy="367.6" r="4.0" fill="url(#c1)"/>
<circle cx="67.5" cy="363.8" r="1.9" fill="url(#cg)"/>
<circle cx="74.9" cy="335.9" r="1.9" fill="url(#cg)"/>
<circle cx="110.6" cy="361.3" r="1.7" fill="url(#cg)"/>
<circle cx="88" cy="388.8" r="2.8" fill="url(#c1)"/>
<circle cx="46.7" cy="391.5" r="1.6" fill="url(#c1)"/>
<circle cx="41" cy="388" r="1.4" fill="url(#c1)"/>
<circle cx="57" cy="395" r="1.2" fill="url(#c1)"/>
<circle cx="104" cy="396" r="1.5" fill="url(#cg)"/>
<circle cx="49" cy="348" r="1.1" fill="url(#cg)"/>
<circle cx="82.5" cy="399.5" r="2.6" fill="url(#c1)"/>
<circle cx="289.6" cy="332.5" r="4.3" fill="url(#c2)"/>
<circle cx="259.2" cy="337.2" r="4.3" fill="url(#c2)"/>
<circle cx="245.5" cy="343.6" r="2.8" fill="url(#c2)"/>
<circle cx="297.5" cy="350.5" r="1.9" fill="url(#cg)"/>
<circle cx="252.4" cy="360.9" r="1.9" fill="url(#cg)"/>
<circle cx="226.5" cy="366.2" r="3.9" fill="url(#c2)"/>
<circle cx="241" cy="370.5" r="5.2" fill="url(#c2)"/>
<circle cx="293.2" cy="369.7" r="4.3" fill="url(#c2)"/>
<circle cx="275.9" cy="380.5" r="5.2" fill="url(#c2)"/>
<circle cx="225.9" cy="388.8" r="1.5" fill="url(#c2)"/>
<circle cx="304.3" cy="383.8" r="1.5" fill="url(#cg)"/>
<circle cx="261" cy="372" r="1.3" fill="url(#cg)"/>
<circle cx="232" cy="352" r="1.1" fill="url(#cg)"/>
<circle cx="333.3" cy="332.8" r="2.2" fill="url(#c3)"/>
<circle cx="339.6" cy="339.1" r="3.7" fill="url(#c3)"/>
<circle cx="327.8" cy="345" r="2.8" fill="url(#c3)"/>
<circle cx="404.3" cy="330.9" r="3.3" fill="url(#c3)"/>
<circle cx="393.6" cy="334.4" r="3.3" fill="url(#c3)"/>
<circle cx="383.2" cy="336.4" r="3.7" fill="url(#c3)"/>
<circle cx="375.9" cy="340.3" r="4.1" fill="url(#c3)"/>
<circle cx="388.7" cy="345.6" r="3.3" fill="url(#c3)"/>
<circle cx="405.3" cy="346.6" r="4.6" fill="url(#c3)"/>
<circle cx="399.4" cy="349.5" r="4.1" fill="url(#c3)"/>
<circle cx="395.5" cy="350.1" r="2.2" fill="url(#c3)"/>
<circle cx="383.8" cy="352.9" r="2.4" fill="url(#c3)"/>
<circle cx="417.7" cy="352.5" r="2.8" fill="url(#c3)"/>
<circle cx="327.5" cy="360.3" r="4.6" fill="url(#c3)"/>
<circle cx="343.5" cy="356.4" r="3.3" fill="url(#c3)"/>
<circle cx="355.3" cy="356.4" r="3.3" fill="url(#c3)"/>
<circle cx="377.9" cy="358.3" r="4.1" fill="url(#c3)"/>
<circle cx="352.4" cy="363.3" r="1.9" fill="url(#c3)"/>
<circle cx="355.3" cy="366.2" r="2.8" fill="url(#c3)"/>
<circle cx="353.3" cy="373.6" r="1.9" fill="url(#c3)"/>
<circle cx="385.7" cy="369.7" r="1.9" fill="url(#c3)"/>
<circle cx="331.8" cy="379.5" r="4.6" fill="url(#c3)"/>
<circle cx="373" cy="382.9" r="3.7" fill="url(#c3)"/>
<circle cx="387.7" cy="381.9" r="3.3" fill="url(#c3)"/>
<circle cx="393.6" cy="386.8" r="3.7" fill="url(#c3)"/>
<circle cx="394.5" cy="389.7" r="2.8" fill="url(#c3)"/>
<circle cx="387.7" cy="391.3" r="1.9" fill="url(#c3)"/>
<circle cx="402.4" cy="393.7" r="2.2" fill="url(#c3)"/>
<circle cx="398.5" cy="398" r="2.2" fill="url(#c3)"/>
<circle cx="410.2" cy="400.5" r="1.9" fill="url(#c3)"/>
<circle cx="383.7" cy="404" r="1.9" fill="url(#c3)"/>
<circle cx="370" cy="391.7" r="1.9" fill="url(#c3)"/>
<circle cx="362" cy="347" r="1.5" fill="url(#c3)"/>
<circle cx="410" cy="375" r="1.5" fill="url(#c3)"/>
<circle cx="366" cy="335" r="1.3" fill="url(#c3)"/>
<circle cx="346" cy="395" r="1.5" fill="url(#c3)"/>
<circle cx="447.4" cy="332.8" r="7.0" fill="url(#cp)"/>
<circle cx="459.2" cy="342.7" r="5.2" fill="url(#cp)"/>
<circle cx="470" cy="335.8" r="2.4" fill="url(#c3)"/>
<circle cx="458.2" cy="356" r="3.7" fill="url(#c3)"/>
<circle cx="464.1" cy="356.4" r="3.3" fill="url(#c3)"/>
<circle cx="481.4" cy="355.4" r="3.7" fill="url(#c3)"/>
<circle cx="429.4" cy="358.3" r="2.2" fill="url(#c3)"/>
<circle cx="454.3" cy="364.8" r="3.3" fill="url(#c3)"/>
<circle cx="462.7" cy="363.3" r="2.8" fill="url(#c3)"/>
<circle cx="502.3" cy="367.2" r="2.4" fill="url(#c3)"/>
<circle cx="470" cy="400.5" r="3.7" fill="url(#c3)"/>
<circle cx="475.9" cy="369.1" r="1.9" fill="url(#cg)"/>
<text x="23" y="403.6" font-size="13" font-weight="bold" fill="#000" textLength="58.6" lengthAdjust="spacingAndGlyphs">Unsorted</text>
<text x="122.4" y="403.6" font-size="13.5" font-weight="bold">G<tspan font-size="13" dy="-5.5">-</tspan><tspan dy="5.5"> P</tspan><tspan font-size="13" dy="-5.5">-</tspan></text>
<text x="223.3" y="403.6" font-size="13.5" font-weight="bold">G<tspan font-size="12.5" dy="-4.0">+</tspan><tspan dy="4.0"> P</tspan><tspan font-size="13" dy="-5.5">-</tspan></text>
<text x="323.0" y="403.7" font-size="13.5" font-weight="bold">G<tspan font-size="12.5" dy="-4.0">+</tspan><tspan dy="4.0"> P</tspan><tspan font-size="12.5" dy="-4.0">+</tspan></text>
<text x="422.3" y="403.7" font-size="13.5" font-weight="bold">G<tspan font-size="13" dy="-5.5">-</tspan><tspan dy="5.5"> P</tspan><tspan font-size="12.5" dy="-4.0">+</tspan></text>
<text x="0.3" y="437.3" font-size="16.5" font-weight="bold" fill="#000">C</text>
<line x1="73" y1="433.3" x2="73" y2="664.7" stroke="#555" stroke-width="0.9"/>
<line x1="70.8" y1="664.7" x2="73" y2="664.7" stroke="#333" stroke-width="0.9"/>
<text x="70.3" y="666.6" font-size="12.8" font-weight="bold" text-anchor="end" fill="#000" textLength="6.4" lengthAdjust="spacingAndGlyphs">0</text>
<line x1="70.8" y1="626.13" x2="73" y2="626.13" stroke="#333" stroke-width="0.9"/>
<text x="70.3" y="628.03" font-size="12.8" font-weight="bold" text-anchor="end" fill="#000" textLength="22.5" lengthAdjust="spacingAndGlyphs">100</text>
<line x1="70.8" y1="587.5600000000001" x2="73" y2="587.5600000000001" stroke="#333" stroke-width="0.9"/>
<text x="70.3" y="589.46" font-size="12.8" font-weight="bold" text-anchor="end" fill="#000" textLength="22.5" lengthAdjust="spacingAndGlyphs">200</text>
<line x1="70.8" y1="548.99" x2="73" y2="548.99" stroke="#333" stroke-width="0.9"/>
<text x="70.3" y="550.89" font-size="12.8" font-weight="bold" text-anchor="end" fill="#000" textLength="22.5" lengthAdjust="spacingAndGlyphs">300</text>
<line x1="70.8" y1="510.4200000000001" x2="73" y2="510.4200000000001" stroke="#333" stroke-width="0.9"/>
<text x="70.3" y="512.32" font-size="12.8" font-weight="bold" text-anchor="end" fill="#000" textLength="22.5" lengthAdjust="spacingAndGlyphs">400</text>
<line x1="70.8" y1="471.85" x2="73" y2="471.85" stroke="#333" stroke-width="0.9"/>
<text x="70.3" y="473.75" font-size="12.8" font-weight="bold" text-anchor="end" fill="#000" textLength="22.5" lengthAdjust="spacingAndGlyphs">500</text>
<line x1="70.8" y1="433.2800000000001" x2="73" y2="433.2800000000001" stroke="#333" stroke-width="0.9"/>
<text x="70.3" y="435.18000000000006" font-size="12.8" font-weight="bold" text-anchor="end" fill="#000" textLength="22.5" lengthAdjust="spacingAndGlyphs">600</text>
<line x1="73" y1="664.7" x2="444.6" y2="664.7" stroke="#333" stroke-width="1"/>
<line x1="148.1" y1="433" x2="148.1" y2="670.5" stroke="#555" stroke-width="1"/>
<line x1="222.5" y1="433" x2="222.5" y2="670.5" stroke="#555" stroke-width="1"/>
<line x1="296.6" y1="433" x2="296.6" y2="670.5" stroke="#555" stroke-width="1"/>
<line x1="371.1" y1="433" x2="371.1" y2="670.5" stroke="#555" stroke-width="1"/>
<defs>
<pattern id="hatch" patternUnits="userSpaceOnUse" width="4" height="4"><rect width="4" height="4" fill="#fff"/><path d="M-1,1L1,-1M0,4L4,0M3,5L5,3" stroke="#000" stroke-width="1.45"/></pattern>
<pattern id="hatchD" patternUnits="userSpaceOnUse" width="4.6" height="4.6"><rect width="4.6" height="4.6" fill="#fff"/><path d="M-1,1L1,-1M0,4.6L4.6,0M3.6,5.6L5.6,3.6" stroke="#000" stroke-width="1.4"/></pattern>
<pattern id="dotp" patternUnits="userSpaceOnUse" width="4" height="4"><rect width="4" height="4" fill="#fff"/><rect x="1" y="1" width="1.2" height="1.2" fill="#000"/></pattern>
</defs>
<rect x="81.60" y="659.69" width="11.6" height="5.01" fill="#fff" stroke="#000" stroke-width="0.9"/>
<rect x="93.20" y="664.20" width="11.6" height="0.50" fill="url(#dotp)" stroke="#000" stroke-width="0.9"/>
<rect x="104.80" y="664.20" width="11.6" height="0.50" fill="#999" stroke="#000" stroke-width="0.9"/>
<rect x="116.40" y="536.26" width="11.6" height="128.44" fill="#000" stroke="#000" stroke-width="0.9"/>
<rect x="128.00" y="639.24" width="11.6" height="25.46" fill="url(#hatch)" stroke="#000" stroke-width="0.9"/>
<text x="90.89999999999999" y="675.9" font-size="11.6" font-weight="bold" fill="#000" textLength="37.9" lengthAdjust="spacingAndGlyphs">Expt. 1</text>
<rect x="156.15" y="661.61" width="11.6" height="3.09" fill="#fff" stroke="#000" stroke-width="0.9"/>
<rect x="167.75" y="664.20" width="11.6" height="0.50" fill="url(#dotp)" stroke="#000" stroke-width="0.9"/>
<rect x="179.35" y="662.39" width="11.6" height="2.31" fill="#999" stroke="#000" stroke-width="0.9"/>
<rect x="190.95" y="607.81" width="11.6" height="56.89" fill="#000" stroke="#000" stroke-width="0.9"/>
<rect x="202.55" y="661.61" width="11.6" height="3.09" fill="url(#hatch)" stroke="#000" stroke-width="0.9"/>
<text x="165.45" y="675.9" font-size="11.6" font-weight="bold" fill="#000" textLength="37.9" lengthAdjust="spacingAndGlyphs">Expt. 2</text>
<rect x="230.70" y="595.66" width="11.6" height="69.04" fill="#fff" stroke="#000" stroke-width="0.9"/>
<rect x="242.30" y="664.20" width="11.6" height="0.50" fill="url(#dotp)" stroke="#000" stroke-width="0.9"/>
<rect x="253.90" y="648.31" width="11.6" height="16.39" fill="#999" stroke="#000" stroke-width="0.9"/>
<rect x="265.50" y="624.20" width="11.6" height="40.50" fill="#000" stroke="#000" stroke-width="0.9"/>
<rect x="277.10" y="654.40" width="11.6" height="10.30" fill="url(#hatch)" stroke="#000" stroke-width="0.9"/>
<text x="240.0" y="675.9" font-size="11.6" font-weight="bold" fill="#000" textLength="37.9" lengthAdjust="spacingAndGlyphs">Expt. 3</text>
<rect x="305.25" y="531.79" width="11.6" height="132.91" fill="#fff" stroke="#000" stroke-width="0.9"/>
<rect x="316.85" y="664.20" width="11.6" height="0.50" fill="url(#dotp)" stroke="#000" stroke-width="0.9"/>
<rect x="328.45" y="586.21" width="11.6" height="78.49" fill="#999" stroke="#000" stroke-width="0.9"/>
<rect x="340.05" y="463.36" width="11.6" height="201.34" fill="#000" stroke="#000" stroke-width="0.9"/>
<rect x="351.65" y="573.40" width="11.6" height="91.30" fill="url(#hatch)" stroke="#000" stroke-width="0.9"/>
<text x="314.55" y="675.9" font-size="11.6" font-weight="bold" fill="#000" textLength="37.9" lengthAdjust="spacingAndGlyphs">Expt. 4</text>
<rect x="379.80" y="621.89" width="11.6" height="42.81" fill="#fff" stroke="#000" stroke-width="0.9"/>
<rect x="391.40" y="664.20" width="11.6" height="0.50" fill="url(#dotp)" stroke="#000" stroke-width="0.9"/>
<rect x="403.00" y="651.01" width="11.6" height="13.69" fill="#999" stroke="#000" stroke-width="0.9"/>
<rect x="414.60" y="488.05" width="11.6" height="176.65" fill="#000" stroke="#000" stroke-width="0.9"/>
<rect x="426.20" y="636.39" width="11.6" height="28.31" fill="url(#hatch)" stroke="#000" stroke-width="0.9"/>
<text x="389.09999999999997" y="675.9" font-size="11.6" font-weight="bold" fill="#000" textLength="37.9" lengthAdjust="spacingAndGlyphs">Expt. 5</text>
<line x1="73" y1="664.7" x2="444.6" y2="664.7" stroke="#333" stroke-width="1"/>
<line x1="95.2" y1="441.5" x2="141" y2="441.5" stroke="#000" stroke-width="1.8"/>
<line x1="121.4" y1="427.4" x2="121.4" y2="458" stroke="#000" stroke-width="1.9"/>
<text x="118.60000000000001" y="437.8" font-size="11" font-weight="bold" text-anchor="end" fill="#000" textLength="16.68" lengthAdjust="spacingAndGlyphs">1.7</text>
<text x="118.60000000000001" y="454.9" font-size="11" font-weight="bold" text-anchor="end" fill="#000" textLength="23.35" lengthAdjust="spacingAndGlyphs">81.0</text>
<text x="124.4" y="437.8" font-size="11" font-weight="bold" fill="#d03428" textLength="16.96" lengthAdjust="spacingAndGlyphs">2.9</text>
<text x="124.4" y="454.9" font-size="11" font-weight="bold" fill="#d03428" textLength="16.96" lengthAdjust="spacingAndGlyphs">4.4</text>
<line x1="161.5" y1="441.0" x2="207" y2="441.0" stroke="#000" stroke-width="1.8"/>
<line x1="187.1" y1="426.4" x2="187.1" y2="457.5" stroke="#000" stroke-width="1.9"/>
<text x="184.29999999999998" y="437.8" font-size="11" font-weight="bold" text-anchor="end" fill="#000" textLength="16.68" lengthAdjust="spacingAndGlyphs">1.2</text>
<text x="184.29999999999998" y="454.9" font-size="11" font-weight="bold" text-anchor="end" fill="#000" textLength="23.35" lengthAdjust="spacingAndGlyphs">88.9</text>
<text x="190.1" y="437.8" font-size="11" font-weight="bold" fill="#d03428" textLength="16.96" lengthAdjust="spacingAndGlyphs">6.2</text>
<text x="190.1" y="454.9" font-size="11" font-weight="bold" fill="#d03428" textLength="16.96" lengthAdjust="spacingAndGlyphs">3.7</text>
<line x1="232.3" y1="441.0" x2="284.6" y2="441.0" stroke="#000" stroke-width="1.8"/>
<line x1="258.5" y1="426.4" x2="258.5" y2="457.5" stroke="#000" stroke-width="1.9"/>
<text x="255.7" y="437.8" font-size="11" font-weight="bold" text-anchor="end" fill="#000" textLength="16.68" lengthAdjust="spacingAndGlyphs">9.5</text>
<text x="255.7" y="454.9" font-size="11" font-weight="bold" text-anchor="end" fill="#000" textLength="23.35" lengthAdjust="spacingAndGlyphs">10.8</text>
<text x="261.5" y="437.8" font-size="11" font-weight="bold" fill="#d03428" textLength="23.74" lengthAdjust="spacingAndGlyphs">58.5</text>
<text x="261.5" y="454.9" font-size="11" font-weight="bold" fill="#d03428" textLength="23.74" lengthAdjust="spacingAndGlyphs">21.2</text>
<line x1="307.8" y1="441.5" x2="361.4" y2="441.5" stroke="#000" stroke-width="1.8"/>
<line x1="335.5" y1="427.4" x2="335.5" y2="458.3" stroke="#000" stroke-width="1.9"/>
<text x="332.7" y="437.8" font-size="11" font-weight="bold" text-anchor="end" fill="#000" textLength="16.68" lengthAdjust="spacingAndGlyphs">4.9</text>
<text x="332.7" y="454.9" font-size="11" font-weight="bold" text-anchor="end" fill="#000" textLength="23.35" lengthAdjust="spacingAndGlyphs">43.7</text>
<text x="338.5" y="437.8" font-size="11" font-weight="bold" fill="#d03428" textLength="23.74" lengthAdjust="spacingAndGlyphs">44.3</text>
<text x="338.5" y="454.9" font-size="11" font-weight="bold" fill="#d03428" textLength="16.96" lengthAdjust="spacingAndGlyphs">7.1</text>
<line x1="381.7" y1="441.5" x2="434.6" y2="441.5" stroke="#000" stroke-width="1.8"/>
<line x1="408.5" y1="427.4" x2="408.5" y2="458.3" stroke="#000" stroke-width="1.9"/>
<text x="405.7" y="437.8" font-size="11" font-weight="bold" text-anchor="end" fill="#000" textLength="16.68" lengthAdjust="spacingAndGlyphs">2.5</text>
<text x="405.7" y="454.9" font-size="11" font-weight="bold" text-anchor="end" fill="#000" textLength="23.35" lengthAdjust="spacingAndGlyphs">62.1</text>
<text x="411.5" y="437.8" font-size="11" font-weight="bold" fill="#d03428" textLength="23.74" lengthAdjust="spacingAndGlyphs">21.2</text>
<text x="411.5" y="454.9" font-size="11" font-weight="bold" fill="#d03428" textLength="23.74" lengthAdjust="spacingAndGlyphs">14.2</text>
<line x1="90.0" y1="460.6" x2="90.0" y2="431.0" stroke="#000" stroke-width="1.3"/>
<path d="M90.00,427.00 L88.30,432.00 L91.70,432.00 Z" fill="#000"/>
<line x1="93.5" y1="460.1" x2="138.2" y2="460.1" stroke="#000" stroke-width="1.3"/>
<path d="M142.20,460.10 L137.20,458.40 L137.20,461.80 Z" fill="#000"/>
<text transform="translate(86.6,463) rotate(-90)" font-size="8.2" font-weight="bold" textLength="40" lengthAdjust="spacingAndGlyphs">PDGFR<tspan font-family="Liberation Serif, serif" font-weight="normal">&#945;</tspan></text>
<text x="107.3" y="469.2" font-size="8.6" font-weight="bold" fill="#000" textLength="19.5" lengthAdjust="spacingAndGlyphs">GFP</text>
<rect x="446.5" y="495.8" width="10.4" height="10.2" fill="#fff" stroke="#000" stroke-width="1.3"/>
<rect x="446.5" y="519.0" width="10.4" height="10.2" fill="#fff" stroke="#000" stroke-width="1.3"/>
<path d="M448.19 520.64h1.2v1.2h-1.2zM454.01 520.64h1.2v1.2h-1.2zM451.10 523.50h1.2v1.2h-1.2zM448.19 526.36h1.2v1.2h-1.2zM454.01 526.36h1.2v1.2h-1.2z" fill="#000"/>
<rect x="446.5" y="542.2" width="10.4" height="10.2" fill="#999" stroke="#000" stroke-width="1.3"/>
<rect x="446.5" y="565.2" width="10.4" height="10.2" fill="#000" stroke="#000" stroke-width="1.3"/>
<rect x="446.5" y="588.4" width="10.4" height="10.2" fill="url(#hatch)" stroke="#000" stroke-width="1.3"/>
<text x="461.8" y="506.2" font-size="11.8" font-weight="bold" fill="#000" textLength="52" lengthAdjust="spacingAndGlyphs">Unsorted</text>
<text x="461.4" y="528.8" font-size="11.8" font-weight="bold">G<tspan font-size="11.8" dy="-5.4">-</tspan><tspan dy="5.4"> P</tspan><tspan font-size="11.8" dy="-5.4">-</tspan></text>
<text x="461.4" y="552.0" font-size="11.8" font-weight="bold">G<tspan font-size="11.6" dy="-3.8">+</tspan><tspan dy="3.8"> P</tspan><tspan font-size="11.8" dy="-5.4">-</tspan></text>
<text x="461.4" y="575.2" font-size="11.8" font-weight="bold">G<tspan font-size="11.6" dy="-3.8">+</tspan><tspan dy="3.8"> P</tspan><tspan font-size="11.6" dy="-3.8">+</tspan></text>
<text x="461.4" y="598.4" font-size="11.8" font-weight="bold">G<tspan font-size="11.8" dy="-5.4">-</tspan><tspan dy="5.4"> P</tspan><tspan font-size="11.6" dy="-3.8">+</tspan></text>
<text transform="translate(41.4,630.5) rotate(-90)" font-size="15" font-weight="bold" textLength="164.5" lengthAdjust="spacingAndGlyphs">Colonies / 2 x 10<tspan font-size="12.5" dy="-7.5">4</tspan><tspan dy="7.5"> cells</tspan></text>
<text x="1.2" y="708.5" font-size="16.5" font-weight="bold" fill="#000">D</text>
<path d="M76.1 886V719.4H219.6V886" fill="none" stroke="#999" stroke-width="0.9"/>
<line x1="73.6" y1="846.4" x2="76.1" y2="846.4" stroke="#333" stroke-width="0.9"/>
<text x="73.4" y="851.1" font-size="12.8" font-weight="bold" text-anchor="end" fill="#000" textLength="22.02" lengthAdjust="spacingAndGlyphs">100</text>
<line x1="73.6" y1="810.2" x2="76.1" y2="810.2" stroke="#333" stroke-width="0.9"/>
<text x="73.4" y="814.9000000000001" font-size="12.8" font-weight="bold" text-anchor="end" fill="#000" textLength="22.02" lengthAdjust="spacingAndGlyphs">200</text>
<line x1="73.6" y1="774.0" x2="76.1" y2="774.0" stroke="#333" stroke-width="0.9"/>
<text x="73.4" y="778.7" font-size="12.8" font-weight="bold" text-anchor="end" fill="#000" textLength="22.02" lengthAdjust="spacingAndGlyphs">300</text>
<line x1="73.6" y1="737.8000000000001" x2="76.1" y2="737.8000000000001" stroke="#333" stroke-width="0.9"/>
<text x="73.4" y="742.5000000000001" font-size="12.8" font-weight="bold" text-anchor="end" fill="#000" textLength="22.02" lengthAdjust="spacingAndGlyphs">400</text>
<line x1="102.75" y1="834.4540000000001" x2="102.75" y2="811.2860000000001" stroke="#111" stroke-width="1.1"/>
<line x1="99.85" y1="811.2860000000001" x2="105.65" y2="811.2860000000001" stroke="#111" stroke-width="1.1"/>
<rect x="91.80" y="834.45" width="21.9" height="51.15" fill="#fff" stroke="#000" stroke-width="0.9"/>
<rect x="113.70" y="882.42" width="21.9" height="3.18" fill="url(#dotp)" stroke="#000" stroke-width="0.9"/>
<line x1="146.54999999999998" y1="861.2420000000001" x2="146.54999999999998" y2="847.8480000000001" stroke="#111" stroke-width="1.1"/>
<line x1="143.64999999999998" y1="847.8480000000001" x2="149.45" y2="847.8480000000001" stroke="#111" stroke-width="1.1"/>
<rect x="135.60" y="861.24" width="21.9" height="24.36" fill="#999" stroke="#000" stroke-width="0.9"/>
<line x1="168.45" y1="768.2080000000001" x2="168.45" y2="738.162" stroke="#111" stroke-width="1.1"/>
<line x1="165.54999999999998" y1="738.162" x2="171.35" y2="738.162" stroke="#111" stroke-width="1.1"/>
<rect x="157.50" y="768.21" width="21.9" height="117.39" fill="#000" stroke="#000" stroke-width="0.9"/>
<line x1="190.34999999999997" y1="852.916" x2="190.34999999999997" y2="838.436" stroke="#111" stroke-width="1.1"/>
<line x1="187.44999999999996" y1="838.436" x2="193.24999999999997" y2="838.436" stroke="#111" stroke-width="1.1"/>
<rect x="179.40" y="852.92" width="21.9" height="32.68" fill="url(#hatchD)" stroke="#000" stroke-width="0.9"/>
<rect x="80.2" y="724.8" width="10.2" height="10.2" fill="#fff" stroke="#000" stroke-width="1.3"/>
<rect x="80.2" y="740.0" width="10.2" height="10.2" fill="#fff" stroke="#000" stroke-width="1.3"/>
<path d="M81.84 741.64h1.2v1.2h-1.2zM87.56 741.64h1.2v1.2h-1.2zM84.70 744.50h1.2v1.2h-1.2zM81.84 747.36h1.2v1.2h-1.2zM87.56 747.36h1.2v1.2h-1.2z" fill="#000"/>
<rect x="80.2" y="757.3" width="10.2" height="10.2" fill="#999" stroke="#000" stroke-width="1.3"/>
<rect x="80.2" y="774.3" width="10.2" height="10.2" fill="#000" stroke="#000" stroke-width="1.3"/>
<rect x="80.2" y="790.8" width="10.2" height="10.2" fill="url(#hatchD)" stroke="#000" stroke-width="1.3"/>
<text x="94.5" y="735.0" font-size="11.6" font-weight="bold" fill="#000" textLength="52" lengthAdjust="spacingAndGlyphs">Unsorted</text>
<text x="94.0" y="749.9" font-size="11.6" font-weight="bold">G<tspan font-size="11.6" dy="-5.3">-</tspan><tspan dy="5.3"> P</tspan><tspan font-size="11.6" dy="-5.3">-</tspan></text>
<text x="94.0" y="767.3" font-size="11.6" font-weight="bold">G<tspan font-size="11.4" dy="-3.7">+</tspan><tspan dy="3.7"> P</tspan><tspan font-size="11.6" dy="-5.3">-</tspan></text>
<text x="94.0" y="784.1" font-size="11.6" font-weight="bold">G<tspan font-size="11.4" dy="-3.7">+</tspan><tspan dy="3.7"> P</tspan><tspan font-size="11.4" dy="-3.7">+</tspan></text>
<text x="94.0" y="800.8" font-size="11.6" font-weight="bold">G<tspan font-size="11.6" dy="-5.3">-</tspan><tspan dy="5.3"> P</tspan><tspan font-size="11.4" dy="-3.7">+</tspan></text>
<text transform="translate(40.6,880.5) rotate(-90)" font-size="15" font-weight="bold" textLength="165" lengthAdjust="spacingAndGlyphs">Colonies / 2 x 10<tspan font-size="12.5" dy="-7.5">4</tspan><tspan dy="7.5"> cells</tspan></text>
<text x="229.6" y="707.8" font-size="16.5" font-weight="bold" fill="#000">E</text>
<line x1="264.4" y1="722.3" x2="264.4" y2="880.9" stroke="#888" stroke-width="0.9"/>
<line x1="264.4" y1="880.9" x2="356" y2="880.9" stroke="#333" stroke-width="1"/>
<line x1="262.2" y1="849.29" x2="264.4" y2="849.29" stroke="#333" stroke-width="0.9"/>
<text x="261.3" y="853.89" font-size="12.6" font-weight="bold" text-anchor="end" fill="#000" textLength="14.46" lengthAdjust="spacingAndGlyphs">20</text>
<line x1="262.2" y1="817.68" x2="264.4" y2="817.68" stroke="#333" stroke-width="0.9"/>
<text x="261.3" y="822.28" font-size="12.6" font-weight="bold" text-anchor="end" fill="#000" textLength="14.46" lengthAdjust="spacingAndGlyphs">40</text>
<line x1="262.2" y1="786.0699999999999" x2="264.4" y2="786.0699999999999" stroke="#333" stroke-width="0.9"/>
<text x="261.3" y="790.67" font-size="12.6" font-weight="bold" text-anchor="end" fill="#000" textLength="14.46" lengthAdjust="spacingAndGlyphs">60</text>
<line x1="262.2" y1="754.46" x2="264.4" y2="754.46" stroke="#333" stroke-width="0.9"/>
<text x="261.3" y="759.0600000000001" font-size="12.6" font-weight="bold" text-anchor="end" fill="#000" textLength="14.46" lengthAdjust="spacingAndGlyphs">80</text>
<line x1="262.2" y1="722.8499999999999" x2="264.4" y2="722.8499999999999" stroke="#333" stroke-width="0.9"/>
<text x="261.3" y="727.4499999999999" font-size="12.6" font-weight="bold" text-anchor="end" fill="#000" textLength="21.68" lengthAdjust="spacingAndGlyphs">100</text>
<line x1="272.5" y1="879.3" x2="279.3" y2="879.3" stroke="#000" stroke-width="1.8"/>
<line x1="299.09999999999997" y1="872.2072499999999" x2="299.09999999999997" y2="868.256" stroke="#000" stroke-width="1.4"/>
<line x1="296.4" y1="868.256" x2="301.79999999999995" y2="868.256" stroke="#000" stroke-width="1.6"/>
<rect x="287.90" y="872.21" width="22.4" height="8.69" fill="#999" stroke="#000" stroke-width="0.9"/>
<line x1="321.85" y1="737.3906" x2="321.85" y2="733.75545" stroke="#000" stroke-width="1.4"/>
<line x1="319.15000000000003" y1="733.75545" x2="324.55" y2="733.75545" stroke="#000" stroke-width="1.6"/>
<rect x="310.30" y="737.39" width="23.1" height="143.51" fill="#000" stroke="#000" stroke-width="0.9"/>
<line x1="344.7" y1="873.6297" x2="344.7" y2="870.94285" stroke="#000" stroke-width="1.4"/>
<line x1="342.0" y1="870.94285" x2="347.4" y2="870.94285" stroke="#000" stroke-width="1.6"/>
<rect x="333.40" y="873.63" width="22.6" height="7.27" fill="url(#hatchD)" stroke="#000" stroke-width="0.9"/>
<rect x="345" y="732.4" width="10.3" height="10.3" fill="#fff" stroke="#000" stroke-width="1.3"/>
<path d="M346.67 734.07h1.2v1.2h-1.2zM352.43 734.07h1.2v1.2h-1.2zM349.55 736.95h1.2v1.2h-1.2zM346.67 739.83h1.2v1.2h-1.2zM352.43 739.83h1.2v1.2h-1.2z" fill="#000"/>
<rect x="345" y="750.0" width="10.3" height="10.3" fill="#999" stroke="#000" stroke-width="1.3"/>
<rect x="345" y="766.9" width="10.3" height="10.3" fill="#000" stroke="#000" stroke-width="1.3"/>
<rect x="345" y="783.8" width="10.3" height="10.3" fill="url(#hatchD)" stroke="#000" stroke-width="1.3"/>
<text x="359.6" y="742.8" font-size="11.2" font-weight="bold">G<tspan font-size="11.2" dy="-5.2">-</tspan><tspan dy="5.2"> P</tspan><tspan font-size="11.2" dy="-5.2">-</tspan></text>
<text x="359.6" y="759.8" font-size="11.2" font-weight="bold">G<tspan font-size="11.0" dy="-3.6">+</tspan><tspan dy="3.6"> P</tspan><tspan font-size="11.2" dy="-5.2">-</tspan></text>
<text x="359.6" y="776.6" font-size="11.2" font-weight="bold">G<tspan font-size="11.0" dy="-3.6">+</tspan><tspan dy="3.6"> P</tspan><tspan font-size="11.0" dy="-3.6">+</tspan></text>
<text x="359.6" y="793.5" font-size="11.2" font-weight="bold">G<tspan font-size="11.2" dy="-5.2">-</tspan><tspan dy="5.2"> P</tspan><tspan font-size="11.0" dy="-3.6">+</tspan></text>
<text transform="translate(241.8,851) rotate(-90)" font-size="14.5" font-weight="bold" textLength="112" lengthAdjust="spacingAndGlyphs">% of total CFCs</text>
<text x="405.6" y="707.4" font-size="16.5" font-weight="bold" fill="#000">F</text>
<path d="M521 724.6H421.5V862.6H521" fill="none" stroke="#aaa" stroke-width="0.9"/>
<line x1="421.5" y1="770.3" x2="521" y2="770.3" stroke="#aaa" stroke-width="0.9"/>
<line x1="421.5" y1="816.5" x2="521" y2="816.5" stroke="#aaa" stroke-width="0.9"/>
<line x1="443.8" y1="823.4" x2="507.8" y2="748.8" stroke="#111" stroke-width="1"/>
<rect x="499.9" y="743.3" width="3.2" height="3.2" fill="#000" stroke="none" stroke-width="1"/>
<rect x="505.9" y="757.1999999999999" width="3.2" height="3.2" fill="#000" stroke="none" stroke-width="1"/>
<rect x="484.5" y="766.4" width="3.2" height="3.2" fill="#000" stroke="none" stroke-width="1"/>
<rect x="442.7" y="811.1999999999999" width="3.2" height="3.2" fill="#000" stroke="none" stroke-width="1"/>
<rect x="458.9" y="821.8" width="3.2" height="3.2" fill="#000" stroke="none" stroke-width="1"/>
<text x="443.8" y="763.9" font-size="9.6" font-weight="bold" textLength="46.7" lengthAdjust="spacingAndGlyphs">R<tspan font-size="6" dy="-3.5">2</tspan><tspan dy="3.5"> = 0.8497</tspan></text>
<text x="421.9" y="877" font-size="11.2" font-weight="bold" textLength="97" lengthAdjust="spacingAndGlyphs">% GFP<tspan font-size="7" dy="-4">+</tspan><tspan dy="4">PDGFR</tspan><tspan font-family="Liberation Serif, serif" font-weight="normal">&#945;</tspan><tspan font-size="7" dy="-4">+</tspan></text>
<text transform="translate(417.6,849.2) rotate(-90)" font-size="14" font-weight="bold" textLength="107.3" lengthAdjust="spacingAndGlyphs">CFC frequency</text>
</svg></body></html>
